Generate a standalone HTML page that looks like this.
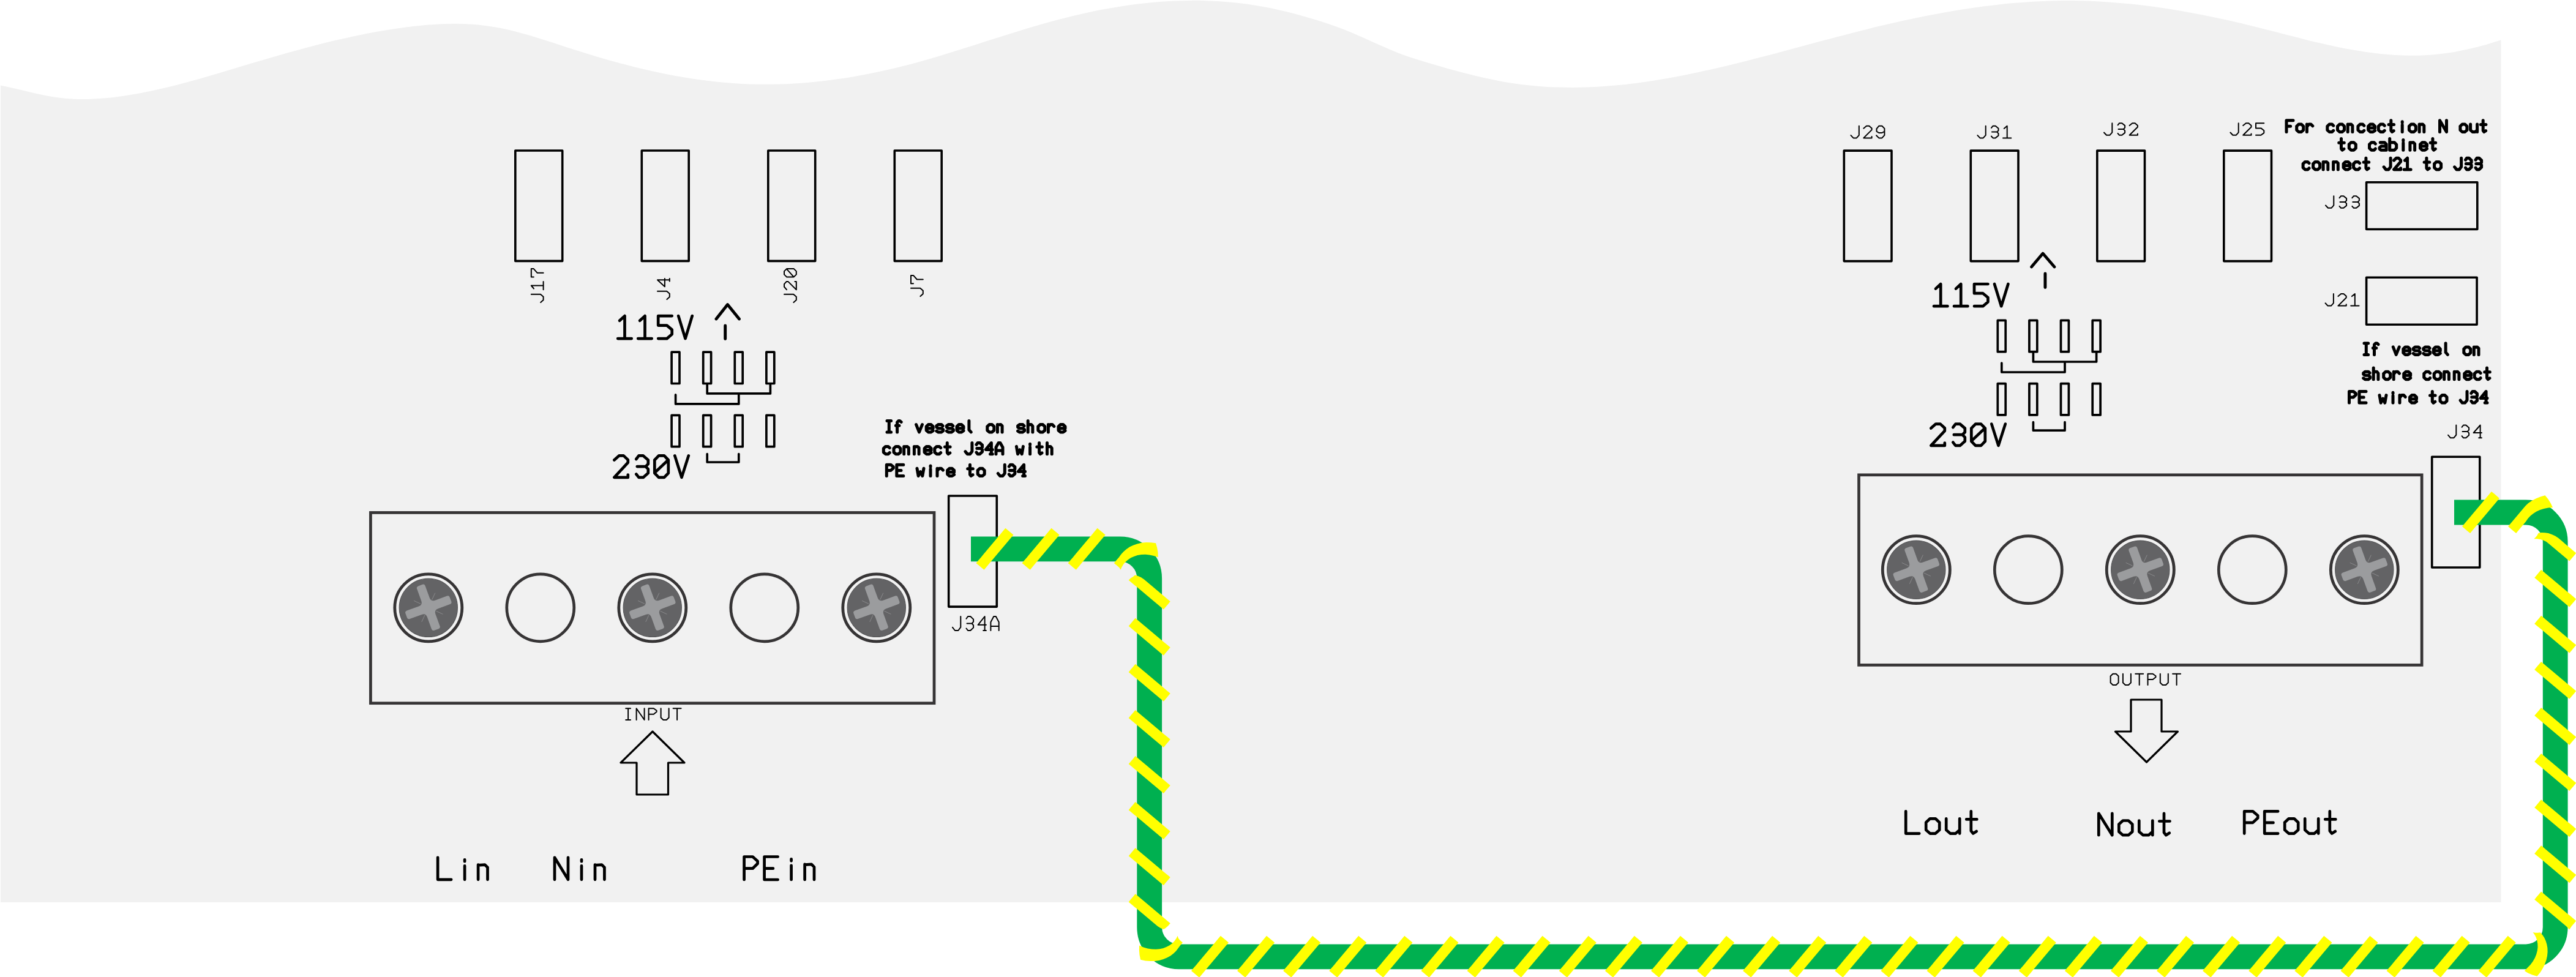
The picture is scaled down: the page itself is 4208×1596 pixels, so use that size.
<!DOCTYPE html>
<html><head><meta charset="utf-8"><title>Wiring</title>
<style>html,body{margin:0;padding:0;background:#fff;width:4208px;height:1596px;overflow:hidden;font-family:"Liberation Sans",sans-serif}svg{display:block}</style>
</head><body>
<svg width="4208" height="1596" viewBox="0 0 4208 1596"><path d="M1,139.6 C5,140.5 17,143 25,144.8 C33,146.6 41,148.7 49,150.5 C57,152.4 65,154.3 73,155.8 C81,157.3 89,158.8 97,159.7 C105,160.7 113,161.4 121,161.7 C129,162.1 137,162.1 145,161.9 C153,161.7 161,161.2 169,160.6 C177,159.9 185,159 193,158 C201,156.9 209,155.7 217,154.3 C225,153 233,151.5 241,149.8 C249,148.2 257,146.4 265,144.6 C273,142.7 281,140.7 289,138.7 C297,136.6 305,134.5 313,132.3 C321,130.1 329,127.8 337,125.5 C345,123.2 353,120.8 361,118.4 C369,116 377,113.6 385,111.2 C393,108.8 401,106.4 409,104 C417,101.7 425,99.3 433,96.9 C441,94.6 449,92.3 457,90 C465,87.7 473,85.5 481,83.3 C489,81.1 497,78.9 505,76.8 C513,74.7 521,72.6 529,70.6 C537,68.6 545,66.7 553,64.8 C561,63 569,61.2 577,59.4 C585,57.7 593,56.1 601,54.5 C609,53 617,51.5 625,50.2 C633,48.8 641,47.6 649,46.4 C657,45.3 665,44.2 673,43.3 C681,42.3 689,41.5 697,40.8 C705,40.2 713,39.6 721,39.3 C729,38.9 737,38.7 745,38.8 C753,38.8 761,39.1 769,39.6 C777,40.1 785,40.8 793,41.9 C801,42.9 809,44.3 817,45.8 C825,47.4 833,49.3 841,51.3 C849,53.3 857,55.5 865,57.8 C873,60.2 881,62.7 889,65.2 C897,67.7 905,70.4 913,73 C921,75.6 929,78.2 937,80.8 C945,83.3 953,85.9 961,88.3 C969,90.8 977,93.2 985,95.5 C993,97.8 1001,100.1 1009,102.2 C1017,104.4 1025,106.5 1033,108.5 C1041,110.5 1049,112.5 1057,114.3 C1065,116.1 1073,117.9 1081,119.5 C1089,121.2 1097,122.8 1105,124.2 C1113,125.7 1121,127 1129,128.2 C1137,129.5 1145,130.6 1153,131.6 C1161,132.6 1169,133.5 1177,134.3 C1185,135.1 1193,135.7 1201,136.2 C1209,136.8 1217,137.1 1225,137.4 C1233,137.7 1241,137.8 1249,137.8 C1257,137.8 1265,137.7 1273,137.5 C1281,137.3 1289,136.9 1297,136.4 C1305,136 1313,135.4 1321,134.7 C1329,134 1337,133.2 1345,132.2 C1353,131.3 1361,130.3 1369,129.1 C1377,128 1385,126.8 1393,125.4 C1401,124 1409,122.6 1417,121 C1425,119.5 1433,117.8 1441,116.1 C1449,114.3 1457,112.4 1465,110.5 C1473,108.5 1481,106.5 1489,104.4 C1497,102.2 1505,100 1513,97.7 C1521,95.4 1529,93.1 1537,90.7 C1545,88.3 1553,85.8 1561,83.3 C1569,80.9 1577,78.3 1585,75.8 C1593,73.3 1601,70.7 1609,68.1 C1617,65.6 1625,63 1633,60.5 C1641,58 1649,55.4 1657,53 C1665,50.5 1673,48 1681,45.6 C1689,43.2 1697,40.9 1705,38.6 C1713,36.4 1721,34.1 1729,32 C1737,29.9 1745,27.9 1753,26 C1761,24 1769,22.2 1777,20.5 C1785,18.7 1793,17.1 1801,15.6 C1809,14.1 1817,12.7 1825,11.4 C1833,10.1 1841,8.9 1849,7.8 C1857,6.7 1865,5.8 1873,4.9 C1881,4.1 1889,3.4 1897,2.8 C1905,2.2 1913,1.8 1921,1.5 C1929,1.1 1937,0.9 1945,0.9 C1953,0.8 1961,0.9 1969,1.2 C1977,1.4 1985,1.8 1993,2.3 C2001,2.8 2009,3.5 2017,4.3 C2025,5.2 2033,6.1 2041,7.3 C2049,8.5 2057,9.8 2065,11.3 C2073,12.7 2081,14.4 2089,16.2 C2097,18 2105,20 2113,22.1 C2121,24.2 2129,26.4 2137,28.7 C2145,31.1 2153,33.5 2161,36.1 C2169,38.7 2177,41.4 2185,44.3 C2193,47.3 2201,50.4 2209,53.7 C2217,57 2225,60.6 2233,64.2 C2241,67.8 2249,71.6 2257,75.1 C2265,78.6 2273,82.1 2281,85.2 C2289,88.4 2297,91.2 2305,94 C2313,96.7 2321,99.1 2329,101.6 C2337,104 2345,106.3 2353,108.6 C2361,110.9 2369,113.1 2377,115.3 C2385,117.4 2393,119.6 2401,121.6 C2409,123.5 2417,125.5 2425,127.2 C2433,129 2441,130.7 2449,132.2 C2457,133.7 2465,135.1 2473,136.3 C2481,137.5 2489,138.5 2497,139.3 C2505,140.2 2513,140.9 2521,141.4 C2529,142 2537,142.4 2545,142.6 C2553,142.9 2561,143 2569,143 C2577,142.9 2585,142.8 2593,142.5 C2601,142.2 2609,141.8 2617,141.2 C2625,140.7 2633,140.1 2641,139.3 C2649,138.5 2657,137.7 2665,136.7 C2673,135.7 2681,134.6 2689,133.5 C2697,132.3 2705,131.1 2713,129.7 C2721,128.4 2729,127 2737,125.5 C2745,124 2753,122.4 2761,120.8 C2769,119.1 2777,117.4 2785,115.6 C2793,113.9 2801,112.1 2809,110.2 C2817,108.3 2825,106.4 2833,104.4 C2841,102.5 2849,100.5 2857,98.4 C2865,96.4 2873,94.3 2881,92.3 C2889,90.2 2897,88.1 2905,85.9 C2913,83.8 2921,81.7 2929,79.5 C2937,77.4 2945,75.2 2953,73.1 C2961,70.9 2969,68.8 2977,66.6 C2985,64.5 2993,62.4 3001,60.3 C3009,58.2 3017,56.1 3025,54 C3033,52 3041,49.9 3049,47.9 C3057,45.9 3065,44 3073,42.1 C3081,40.2 3089,38.3 3097,36.5 C3105,34.7 3113,32.9 3121,31.2 C3129,29.5 3137,27.8 3145,26.2 C3153,24.7 3161,23.1 3169,21.7 C3177,20.2 3185,18.8 3193,17.5 C3201,16.1 3209,14.9 3217,13.7 C3225,12.5 3233,11.4 3241,10.3 C3249,9.3 3257,8.3 3265,7.4 C3273,6.6 3281,5.8 3289,5.1 C3297,4.4 3305,3.8 3313,3.2 C3321,2.7 3329,2.3 3337,1.9 C3345,1.6 3353,1.4 3361,1.2 C3369,1.1 3377,1 3385,1.1 C3393,1.2 3401,1.3 3409,1.6 C3417,1.9 3425,2.3 3433,2.7 C3441,3.2 3449,3.7 3457,4.4 C3465,5 3473,5.8 3481,6.6 C3489,7.4 3497,8.3 3505,9.3 C3513,10.3 3521,11.4 3529,12.5 C3537,13.7 3545,14.9 3553,16.2 C3561,17.5 3569,18.9 3577,20.4 C3585,21.8 3593,23.3 3601,24.9 C3609,26.5 3617,28.2 3625,29.9 C3633,31.6 3641,33.4 3649,35.2 C3657,37.1 3665,39 3673,41 C3681,42.9 3689,44.9 3697,47 C3705,49 3713,51.1 3721,53.1 C3729,55.2 3737,57.3 3745,59.3 C3753,61.4 3761,63.4 3769,65.4 C3777,67.3 3785,69.3 3793,71.1 C3801,73 3809,74.7 3817,76.4 C3825,78.1 3833,79.7 3841,81.1 C3849,82.6 3857,83.9 3865,85.1 C3873,86.2 3881,87.3 3889,88.1 C3897,88.9 3905,89.6 3913,90.1 C3921,90.5 3929,90.8 3937,90.8 C3945,90.9 3953,90.7 3961,90.3 C3969,89.8 3977,89.2 3985,88.3 C3993,87.4 4001,86.2 4009,84.9 C4017,83.5 4025,81.9 4033,80.1 C4041,78.3 4049,76.3 4057,74.1 C4065,71.9 4076.3,68.2 4081,66.8 C4085.7,65.3 4084.7,65.6 4085.4,65.3 L4085.4,1474 L1,1474 Z" fill="#f1f1f1"/>
<rect x="841.8" y="246" width="76.9" height="180.4" fill="none" stroke="#000" stroke-width="3.6" stroke-linejoin="round"/>
<rect x="1048.3" y="246" width="76.9" height="180.4" fill="none" stroke="#000" stroke-width="3.6" stroke-linejoin="round"/>
<rect x="1254.8" y="246" width="76.9" height="180.4" fill="none" stroke="#000" stroke-width="3.6" stroke-linejoin="round"/>
<rect x="1461.3" y="246" width="76.9" height="180.4" fill="none" stroke="#000" stroke-width="3.6" stroke-linejoin="round"/>
<rect x="3012.3" y="246.1" width="77.7" height="180.5" fill="none" stroke="#000" stroke-width="3.6" stroke-linejoin="round"/>
<rect x="3219.3" y="246.1" width="77.7" height="180.5" fill="none" stroke="#000" stroke-width="3.6" stroke-linejoin="round"/>
<rect x="3425.8" y="246.1" width="77.7" height="180.5" fill="none" stroke="#000" stroke-width="3.6" stroke-linejoin="round"/>
<rect x="3632.8" y="246.1" width="77.7" height="180.5" fill="none" stroke="#000" stroke-width="3.6" stroke-linejoin="round"/>
<rect x="3865.6" y="297.7" width="181.2" height="76.8" fill="none" stroke="#000" stroke-width="3.6" stroke-linejoin="round"/>
<rect x="3865.6" y="453.2" width="180.5" height="77" fill="none" stroke="#000" stroke-width="3.6" stroke-linejoin="round"/>
<rect x="1549.7" y="810" width="78.6" height="181.1" fill="none" stroke="#000" stroke-width="3.6" stroke-linejoin="round"/>
<rect x="3972.7" y="746.3" width="78.1" height="180.7" fill="none" stroke="#000" stroke-width="3.6" stroke-linejoin="round"/>
<rect x="1097.1" y="575.2" width="12.9" height="51.3" fill="none" stroke="#000" stroke-width="3.7" stroke-linejoin="round"/>
<rect x="1148.7" y="575.2" width="12.9" height="51.3" fill="none" stroke="#000" stroke-width="3.7" stroke-linejoin="round"/>
<rect x="1200.3" y="575.2" width="12.9" height="51.3" fill="none" stroke="#000" stroke-width="3.7" stroke-linejoin="round"/>
<rect x="1251.9" y="575.2" width="12.9" height="51.3" fill="none" stroke="#000" stroke-width="3.7" stroke-linejoin="round"/>
<rect x="1097.1" y="678.4" width="12.9" height="51.3" fill="none" stroke="#000" stroke-width="3.7" stroke-linejoin="round"/>
<rect x="1148.7" y="678.4" width="12.9" height="51.3" fill="none" stroke="#000" stroke-width="3.7" stroke-linejoin="round"/>
<rect x="1200.3" y="678.4" width="12.9" height="51.3" fill="none" stroke="#000" stroke-width="3.7" stroke-linejoin="round"/>
<rect x="1251.9" y="678.4" width="12.9" height="51.3" fill="none" stroke="#000" stroke-width="3.7" stroke-linejoin="round"/>
<path d="M1155.2,627.4 V642.9 H1258.4 V627.4" fill="none" stroke="#000" stroke-width="3.7" stroke-linecap="round" stroke-linejoin="round"/>
<path d="M1103.6,644.9 V659.9 H1206.8 V644.9" fill="none" stroke="#000" stroke-width="3.7" stroke-linecap="round" stroke-linejoin="round"/>
<path d="M1155.2,741.5 V755 H1206.8 V741.5" fill="none" stroke="#000" stroke-width="3.7" stroke-linecap="round" stroke-linejoin="round"/>
<rect x="3263.3" y="523.4" width="12.9" height="51.3" fill="none" stroke="#000" stroke-width="3.7" stroke-linejoin="round"/>
<rect x="3314.9" y="523.4" width="12.9" height="51.3" fill="none" stroke="#000" stroke-width="3.7" stroke-linejoin="round"/>
<rect x="3366.5" y="523.4" width="12.9" height="51.3" fill="none" stroke="#000" stroke-width="3.7" stroke-linejoin="round"/>
<rect x="3418.2" y="523.4" width="12.9" height="51.3" fill="none" stroke="#000" stroke-width="3.7" stroke-linejoin="round"/>
<rect x="3263.3" y="626.6" width="12.9" height="51.3" fill="none" stroke="#000" stroke-width="3.7" stroke-linejoin="round"/>
<rect x="3314.9" y="626.6" width="12.9" height="51.3" fill="none" stroke="#000" stroke-width="3.7" stroke-linejoin="round"/>
<rect x="3366.5" y="626.6" width="12.9" height="51.3" fill="none" stroke="#000" stroke-width="3.7" stroke-linejoin="round"/>
<rect x="3418.2" y="626.6" width="12.9" height="51.3" fill="none" stroke="#000" stroke-width="3.7" stroke-linejoin="round"/>
<path d="M3321.4,575.5 V591 H3424.6 V575.5" fill="none" stroke="#000" stroke-width="3.7" stroke-linecap="round" stroke-linejoin="round"/>
<path d="M3269.8,593 V608 H3373 V593" fill="none" stroke="#000" stroke-width="3.7" stroke-linecap="round" stroke-linejoin="round"/>
<path d="M3321.4,689.7 V703.2 H3373 V689.7" fill="none" stroke="#000" stroke-width="3.7" stroke-linecap="round" stroke-linejoin="round"/>
<path d="M1170,521 L1188.5,497.5 L1207.5,521 M1184.7,532 L1184.7,553.5" fill="none" stroke="#000" stroke-width="4.9" stroke-linecap="round" stroke-linejoin="round"/>
<path d="M3318.5,436 L3337.1,414 L3356,436 M3340.9,447 L3340.9,469.5" fill="none" stroke="#000" stroke-width="4.9" stroke-linecap="round" stroke-linejoin="round"/>
<rect x="605.4" y="837.4" width="920.6" height="311.3" fill="none" stroke="#363435" stroke-width="4.7"/>
<circle cx="699.8" cy="992.8" r="55" fill="#f2f2f2" stroke="#363435" stroke-width="4.8"/>
<circle cx="699.8" cy="992.8" r="47.6" fill="#636365" stroke="#58585a" stroke-width="1.2"/>
<g transform="translate(699.8,992.3)"><g transform="rotate(-20)"><path d="M-7.2,-35 Q-7.2,-38.5 -3.7,-38.5 L3.7,-38.5 Q7.2,-38.5 7.2,-35 L7.2,-14.2 Q7.2,-7.2 14.2,-7.2 L35,-7.2 Q38.5,-7.2 38.5,-3.7 L38.5,3.7 Q38.5,7.2 35,7.2 L14.2,7.2 Q7.2,7.2 7.2,14.2 L7.2,35 Q7.2,38.5 3.7,38.5 L-3.7,38.5 Q-7.2,38.5 -7.2,35 L-7.2,14.2 Q-7.2,7.2 -14.2,7.2 L-35,7.2 Q-38.5,7.2 -38.5,3.7 L-38.5,-3.7 Q-38.5,-7.2 -35,-7.2 L-14.2,-7.2 Q-7.2,-7.2 -7.2,-14.2 Z" fill="#9b9c9e"/></g><path d="M12.7,5.9 L23.6,11 M-5.9,12.7 L-11,23.6 M-12.7,-5.9 L-23.6,-11 M5.9,-12.7 L11,-23.6" stroke="#a8a9ab" stroke-width="0.8" fill="none" opacity="0.7"/></g>
<circle cx="882.8" cy="992.8" r="55" fill="none" stroke="#363435" stroke-width="4.7"/>
<circle cx="1065.8" cy="992.8" r="55" fill="#f2f2f2" stroke="#363435" stroke-width="4.8"/>
<circle cx="1065.8" cy="992.8" r="47.6" fill="#636365" stroke="#58585a" stroke-width="1.2"/>
<g transform="translate(1065.8,992.3)"><g transform="rotate(-20)"><path d="M-7.2,-35 Q-7.2,-38.5 -3.7,-38.5 L3.7,-38.5 Q7.2,-38.5 7.2,-35 L7.2,-14.2 Q7.2,-7.2 14.2,-7.2 L35,-7.2 Q38.5,-7.2 38.5,-3.7 L38.5,3.7 Q38.5,7.2 35,7.2 L14.2,7.2 Q7.2,7.2 7.2,14.2 L7.2,35 Q7.2,38.5 3.7,38.5 L-3.7,38.5 Q-7.2,38.5 -7.2,35 L-7.2,14.2 Q-7.2,7.2 -14.2,7.2 L-35,7.2 Q-38.5,7.2 -38.5,3.7 L-38.5,-3.7 Q-38.5,-7.2 -35,-7.2 L-14.2,-7.2 Q-7.2,-7.2 -7.2,-14.2 Z" fill="#9b9c9e"/></g><path d="M12.7,5.9 L23.6,11 M-5.9,12.7 L-11,23.6 M-12.7,-5.9 L-23.6,-11 M5.9,-12.7 L11,-23.6" stroke="#a8a9ab" stroke-width="0.8" fill="none" opacity="0.7"/></g>
<circle cx="1248.8" cy="992.8" r="55" fill="none" stroke="#363435" stroke-width="4.7"/>
<circle cx="1431.8" cy="992.8" r="55" fill="#f2f2f2" stroke="#363435" stroke-width="4.8"/>
<circle cx="1431.8" cy="992.8" r="47.6" fill="#636365" stroke="#58585a" stroke-width="1.2"/>
<g transform="translate(1431.8,992.3)"><g transform="rotate(-20)"><path d="M-7.2,-35 Q-7.2,-38.5 -3.7,-38.5 L3.7,-38.5 Q7.2,-38.5 7.2,-35 L7.2,-14.2 Q7.2,-7.2 14.2,-7.2 L35,-7.2 Q38.5,-7.2 38.5,-3.7 L38.5,3.7 Q38.5,7.2 35,7.2 L14.2,7.2 Q7.2,7.2 7.2,14.2 L7.2,35 Q7.2,38.5 3.7,38.5 L-3.7,38.5 Q-7.2,38.5 -7.2,35 L-7.2,14.2 Q-7.2,7.2 -14.2,7.2 L-35,7.2 Q-38.5,7.2 -38.5,3.7 L-38.5,-3.7 Q-38.5,-7.2 -35,-7.2 L-14.2,-7.2 Q-7.2,-7.2 -7.2,-14.2 Z" fill="#9b9c9e"/></g><path d="M12.7,5.9 L23.6,11 M-5.9,12.7 L-11,23.6 M-12.7,-5.9 L-23.6,-11 M5.9,-12.7 L11,-23.6" stroke="#a8a9ab" stroke-width="0.8" fill="none" opacity="0.7"/></g>
<rect x="3036.5" y="775.8" width="919.6" height="310.6" fill="none" stroke="#363435" stroke-width="4.7"/>
<circle cx="3130.3" cy="930.7" r="55" fill="#f2f2f2" stroke="#363435" stroke-width="4.8"/>
<circle cx="3130.3" cy="930.7" r="47.6" fill="#636365" stroke="#58585a" stroke-width="1.2"/>
<g transform="translate(3130.3,930.2)"><g transform="rotate(-20)"><path d="M-7.2,-35 Q-7.2,-38.5 -3.7,-38.5 L3.7,-38.5 Q7.2,-38.5 7.2,-35 L7.2,-14.2 Q7.2,-7.2 14.2,-7.2 L35,-7.2 Q38.5,-7.2 38.5,-3.7 L38.5,3.7 Q38.5,7.2 35,7.2 L14.2,7.2 Q7.2,7.2 7.2,14.2 L7.2,35 Q7.2,38.5 3.7,38.5 L-3.7,38.5 Q-7.2,38.5 -7.2,35 L-7.2,14.2 Q-7.2,7.2 -14.2,7.2 L-35,7.2 Q-38.5,7.2 -38.5,3.7 L-38.5,-3.7 Q-38.5,-7.2 -35,-7.2 L-14.2,-7.2 Q-7.2,-7.2 -7.2,-14.2 Z" fill="#9b9c9e"/></g><path d="M12.7,5.9 L23.6,11 M-5.9,12.7 L-11,23.6 M-12.7,-5.9 L-23.6,-11 M5.9,-12.7 L11,-23.6" stroke="#a8a9ab" stroke-width="0.8" fill="none" opacity="0.7"/></g>
<circle cx="3313.3" cy="930.7" r="55" fill="none" stroke="#363435" stroke-width="4.7"/>
<circle cx="3496.3" cy="930.7" r="55" fill="#f2f2f2" stroke="#363435" stroke-width="4.8"/>
<circle cx="3496.3" cy="930.7" r="47.6" fill="#636365" stroke="#58585a" stroke-width="1.2"/>
<g transform="translate(3496.3,930.2)"><g transform="rotate(-20)"><path d="M-7.2,-35 Q-7.2,-38.5 -3.7,-38.5 L3.7,-38.5 Q7.2,-38.5 7.2,-35 L7.2,-14.2 Q7.2,-7.2 14.2,-7.2 L35,-7.2 Q38.5,-7.2 38.5,-3.7 L38.5,3.7 Q38.5,7.2 35,7.2 L14.2,7.2 Q7.2,7.2 7.2,14.2 L7.2,35 Q7.2,38.5 3.7,38.5 L-3.7,38.5 Q-7.2,38.5 -7.2,35 L-7.2,14.2 Q-7.2,7.2 -14.2,7.2 L-35,7.2 Q-38.5,7.2 -38.5,3.7 L-38.5,-3.7 Q-38.5,-7.2 -35,-7.2 L-14.2,-7.2 Q-7.2,-7.2 -7.2,-14.2 Z" fill="#9b9c9e"/></g><path d="M12.7,5.9 L23.6,11 M-5.9,12.7 L-11,23.6 M-12.7,-5.9 L-23.6,-11 M5.9,-12.7 L11,-23.6" stroke="#a8a9ab" stroke-width="0.8" fill="none" opacity="0.7"/></g>
<circle cx="3679.3" cy="930.7" r="55" fill="none" stroke="#363435" stroke-width="4.7"/>
<circle cx="3862.3" cy="930.7" r="55" fill="#f2f2f2" stroke="#363435" stroke-width="4.8"/>
<circle cx="3862.3" cy="930.7" r="47.6" fill="#636365" stroke="#58585a" stroke-width="1.2"/>
<g transform="translate(3862.3,930.2)"><g transform="rotate(-20)"><path d="M-7.2,-35 Q-7.2,-38.5 -3.7,-38.5 L3.7,-38.5 Q7.2,-38.5 7.2,-35 L7.2,-14.2 Q7.2,-7.2 14.2,-7.2 L35,-7.2 Q38.5,-7.2 38.5,-3.7 L38.5,3.7 Q38.5,7.2 35,7.2 L14.2,7.2 Q7.2,7.2 7.2,14.2 L7.2,35 Q7.2,38.5 3.7,38.5 L-3.7,38.5 Q-7.2,38.5 -7.2,35 L-7.2,14.2 Q-7.2,7.2 -14.2,7.2 L-35,7.2 Q-38.5,7.2 -38.5,3.7 L-38.5,-3.7 Q-38.5,-7.2 -35,-7.2 L-14.2,-7.2 Q-7.2,-7.2 -7.2,-14.2 Z" fill="#9b9c9e"/></g><path d="M12.7,5.9 L23.6,11 M-5.9,12.7 L-11,23.6 M-12.7,-5.9 L-23.6,-11 M5.9,-12.7 L11,-23.6" stroke="#a8a9ab" stroke-width="0.8" fill="none" opacity="0.7"/></g>
<path d="M1066,1195 L1014,1246 L1040,1246 L1040,1298 L1091.5,1298 L1091.5,1246 L1118,1246 Z" fill="none" stroke="#000" stroke-width="3.2" stroke-linejoin="round"/>
<path d="M3481,1143 L3531,1143 L3531,1195 L3557.5,1195 L3506.5,1245 L3455.5,1195 L3481,1195 Z" fill="none" stroke="#000" stroke-width="3.2" stroke-linejoin="round"/>
<path transform="translate(867.8,494) rotate(-90)" d="M13.3,0 L13.3,15.2 L9.3,19.8 L4,19.8 L0,15.4 M22.5,4.2 L27.5,0 L27.5,19.8 M20.8,19.8 L34.1,19.8 M41.6,4 L41.6,0 L54.9,0 L54.9,4 L48.2,9.9 L48.2,19.8" fill="none" stroke="#000" stroke-width="2" stroke-linecap="round" stroke-linejoin="round"/>
<path transform="translate(1074,489) rotate(-90)" d="M13.3,0 L13.3,15.2 L9.3,19.8 L4,19.8 L0,15.4 M31.8,19.8 L31.8,0 L20.8,11.9 L34.1,11.9 M29.4,19.8 L34.1,19.8" fill="none" stroke="#000" stroke-width="2" stroke-linecap="round" stroke-linejoin="round"/>
<path transform="translate(1281,494) rotate(-90)" d="M13.3,0 L13.3,15.2 L9.3,19.8 L4,19.8 L0,15.4 M20.8,4 L25.5,0 L29.8,0 L34.1,3.8 L34.1,6.3 L20.8,19.8 L34.1,19.8 L34.1,17.4 M41.6,4 L45.6,0 L50.9,0 L54.9,4 L54.9,15.8 L50.9,19.8 L45.6,19.8 L41.6,15.8 L41.6,4 M54.2,4.4 L42.3,15" fill="none" stroke="#000" stroke-width="2" stroke-linecap="round" stroke-linejoin="round"/>
<path transform="translate(1488,484) rotate(-90)" d="M13.3,0 L13.3,15.2 L9.3,19.8 L4,19.8 L0,15.4 M20.8,4 L20.8,0 L34.1,0 L34.1,4 L27.5,9.9 L27.5,19.8" fill="none" stroke="#000" stroke-width="2" stroke-linecap="round" stroke-linejoin="round"/>
<path d="M3036.8,205.8 L3036.8,220.9 L3032.8,225.4 L3027.5,225.4 L3023.5,221.1 M3044.3,209.7 L3049,205.8 L3053.3,205.8 L3057.6,209.5 L3057.6,212.1 L3044.3,225.4 L3057.6,225.4 L3057.6,223 M3065.5,210.3 L3069.2,205.8 L3074.3,205.8 L3078.4,209.9 L3078.4,214.6 L3074.3,217 L3069.2,217 L3065.5,214.6 L3065.5,210.3 M3078.4,214.6 L3078.4,220.9 L3074.3,225.4 L3069.2,225.4 L3065.1,221.3" fill="none" stroke="#000" stroke-width="2" stroke-linecap="round" stroke-linejoin="round"/>
<path d="M3243.7,205.8 L3243.7,220.9 L3239.7,225.4 L3234.4,225.4 L3230.4,221.1 M3252.9,208.9 L3255.5,205.8 L3259.7,205.8 L3264.5,209.7 L3264.5,213.2 L3262.1,215.6 L3253.9,215.6 M3262.1,215.6 L3264.5,218 L3264.5,221.5 L3259.7,225.4 L3255.5,225.4 L3252.9,222.5 M3273.7,209.9 L3278.7,205.8 L3278.7,225.4 M3272,225.4 L3285.3,225.4" fill="none" stroke="#000" stroke-width="2" stroke-linecap="round" stroke-linejoin="round"/>
<path d="M3450.3,201.2 L3450.3,216.3 L3446.3,220.8 L3441,220.8 L3437,216.5 M3459.5,204.3 L3462.1,201.2 L3466.3,201.2 L3471.1,205.1 L3471.1,208.6 L3468.7,211 L3460.5,211 M3468.7,211 L3471.1,213.4 L3471.1,216.9 L3466.3,220.8 L3462.1,220.8 L3459.5,217.9 M3478.6,205.1 L3483.3,201.2 L3487.6,201.2 L3491.9,204.9 L3491.9,207.5 L3478.6,220.8 L3491.9,220.8 L3491.9,218.4" fill="none" stroke="#000" stroke-width="2" stroke-linecap="round" stroke-linejoin="round"/>
<path d="M3656.7,201.2 L3656.7,216.3 L3652.7,220.8 L3647.4,220.8 L3643.4,216.5 M3664.2,205.1 L3668.9,201.2 L3673.2,201.2 L3677.5,204.9 L3677.5,207.5 L3664.2,220.8 L3677.5,220.8 L3677.5,218.4 M3698.3,201.2 L3685,201.2 L3685,209.4 L3693.4,209.4 L3698.3,213.2 L3698.3,217.1 L3693.4,220.8 L3685,220.8" fill="none" stroke="#000" stroke-width="2" stroke-linecap="round" stroke-linejoin="round"/>
<path d="M3812.3,320.2 L3812.3,335.3 L3808.3,339.8 L3803,339.8 L3799,335.5 M3821.5,323.3 L3824.1,320.2 L3828.3,320.2 L3833.1,324.1 L3833.1,327.6 L3830.7,330 L3822.5,330 M3830.7,330 L3833.1,332.4 L3833.1,335.9 L3828.3,339.8 L3824.1,339.8 L3821.5,336.9 M3842.3,323.3 L3844.9,320.2 L3849.1,320.2 L3853.9,324.1 L3853.9,327.6 L3851.5,330 L3843.3,330 M3851.5,330 L3853.9,332.4 L3853.9,335.9 L3849.1,339.8 L3844.9,339.8 L3842.3,336.9" fill="none" stroke="#000" stroke-width="2" stroke-linecap="round" stroke-linejoin="round"/>
<path d="M3811.9,480 L3811.9,495.1 L3807.9,499.6 L3802.6,499.6 L3798.6,495.3 M3819.4,483.9 L3824.1,480 L3828.4,480 L3832.7,483.7 L3832.7,486.3 L3819.4,499.6 L3832.7,499.6 L3832.7,497.2 M3841.9,484.1 L3846.8,480 L3846.8,499.6 M3840.2,499.6 L3853.5,499.6" fill="none" stroke="#000" stroke-width="2" stroke-linecap="round" stroke-linejoin="round"/>
<path d="M4012.3,694.5 L4012.3,710.5 L4008.3,715.3 L4003,715.3 L3999,710.7 M4021.5,697.8 L4024.1,694.5 L4028.3,694.5 L4033.1,698.7 L4033.1,702.4 L4030.7,704.9 L4022.5,704.9 M4030.7,704.9 L4033.1,707.4 L4033.1,711.1 L4028.3,715.3 L4024.1,715.3 L4021.5,712.2 M4051.6,715.3 L4051.6,694.5 L4040.6,707 L4053.9,707 M4049.2,715.3 L4053.9,715.3" fill="none" stroke="#000" stroke-width="2" stroke-linecap="round" stroke-linejoin="round"/>
<path d="M1569.3,1007 L1569.3,1024.7 L1565.3,1030 L1560,1030 L1556,1024.9 M1578.5,1010.7 L1581.1,1007 L1585.3,1007 L1590.1,1011.6 L1590.1,1015.7 L1587.7,1018.5 L1579.5,1018.5 M1587.7,1018.5 L1590.1,1021.3 L1590.1,1025.4 L1585.3,1030 L1581.1,1030 L1578.5,1026.5 M1608.6,1030 L1608.6,1007 L1597.6,1020.8 L1610.9,1020.8 M1606.2,1030 L1610.9,1030 M1618.4,1030 L1618.4,1016.2 L1623.3,1007 L1626.8,1007 L1631.7,1016.2 L1631.7,1030 M1618.4,1022.9 L1631.7,1022.9" fill="none" stroke="#000" stroke-width="2" stroke-linecap="round" stroke-linejoin="round"/>
<path d="M1022.2,1157.2 L1030,1157.2 M1026.1,1157.2 L1026.1,1176 M1022.2,1176 L1030,1176 M1039.6,1176 L1039.6,1157.2 L1052.6,1176 L1052.6,1157.2 M1059.6,1176 L1059.6,1157.2 L1067.8,1157.2 L1072.6,1160.8 L1072.6,1162.8 L1067.8,1166.8 L1059.6,1166.8 M1079.6,1157.2 L1079.6,1172.2 L1083.5,1176 L1088.7,1176 L1092.6,1172.2 L1092.6,1157.2 M1099.6,1157.2 L1112.6,1157.2 M1106.1,1157.2 L1106.1,1176" fill="none" stroke="#000" stroke-width="2" stroke-linecap="round" stroke-linejoin="round"/>
<path d="M3447.6,1104.4 L3451.5,1100.7 L3456.7,1100.7 L3460.6,1104.4 L3460.6,1115.3 L3456.7,1119 L3451.5,1119 L3447.6,1115.3 L3447.6,1104.4 M3467.9,1100.7 L3467.9,1115.3 L3471.8,1119 L3477,1119 L3480.9,1115.3 L3480.9,1100.7 M3488.2,1100.7 L3501.2,1100.7 M3494.7,1100.7 L3494.7,1119 M3508.5,1119 L3508.5,1100.7 L3516.7,1100.7 L3521.5,1104.2 L3521.5,1106.2 L3516.7,1110 L3508.5,1110 M3528.8,1100.7 L3528.8,1115.3 L3532.7,1119 L3537.9,1119 L3541.8,1115.3 L3541.8,1100.7 M3549.1,1100.7 L3562.1,1100.7 M3555.6,1100.7 L3555.6,1119" fill="none" stroke="#000" stroke-width="2" stroke-linecap="round" stroke-linejoin="round"/>
<path d="M1012.2,523.8 L1020.5,516.1 L1020.5,553.1 M1009.2,553.1 L1031.7,553.1 M1045.2,523.8 L1053.5,516.1 L1053.5,553.1 M1042.2,553.1 L1064.7,553.1 M1097.7,516.1 L1075.2,516.1 L1075.2,531.6 L1089.4,531.6 L1097.7,538.6 L1097.7,546 L1089.4,553.1 L1075.2,553.1 M1108.2,516.1 L1119.5,553.1 L1130.7,516.1" fill="none" stroke="#000" stroke-width="4.7" stroke-linecap="round" stroke-linejoin="round"/>
<path d="M1003.4,751.5 L1011.2,744.4 L1018.6,744.4 L1025.8,751.1 L1025.8,755.7 L1003.4,779.9 L1025.8,779.9 L1025.8,775.6 M1039.3,750 L1043.5,744.4 L1050.7,744.4 L1058.8,751.5 L1058.8,757.8 L1054.7,762.1 L1040.8,762.1 M1054.7,762.1 L1058.8,766.4 L1058.8,772.8 L1050.7,779.9 L1043.5,779.9 L1039.3,774.5 M1069.3,751.5 L1076.1,744.4 L1085,744.4 L1091.8,751.5 L1091.8,772.8 L1085,779.9 L1076.1,779.9 L1069.3,772.8 L1069.3,751.5 M1090.6,752.2 L1070.5,771.3 M1102.3,744.4 L1113.5,779.9 L1124.8,744.4" fill="none" stroke="#000" stroke-width="4.7" stroke-linecap="round" stroke-linejoin="round"/>
<path d="M3162,471.6 L3170.2,464 L3170.2,500.2 M3159,500.2 L3181.4,500.2 M3195,471.6 L3203.2,464 L3203.2,500.2 M3192,500.2 L3214.4,500.2 M3247.4,464 L3225,464 L3225,479.2 L3239.2,479.2 L3247.4,486 L3247.4,493.3 L3239.2,500.2 L3225,500.2 M3258,464 L3269.2,500.2 L3280.4,464" fill="none" stroke="#000" stroke-width="4.7" stroke-linecap="round" stroke-linejoin="round"/>
<path d="M3154.3,699.6 L3162.2,692.6 L3169.6,692.6 L3176.8,699.3 L3176.8,703.8 L3154.3,727.9 L3176.8,727.9 L3176.8,723.6 M3190.3,698.2 L3194.5,692.6 L3201.7,692.6 L3209.8,699.6 L3209.8,706 L3205.7,710.2 L3191.8,710.2 M3205.7,710.2 L3209.8,714.4 L3209.8,720.8 L3201.7,727.9 L3194.5,727.9 L3190.3,722.6 M3220.3,699.6 L3227.1,692.6 L3236,692.6 L3242.8,699.6 L3242.8,720.8 L3236,727.9 L3227.1,727.9 L3220.3,720.8 L3220.3,699.6 M3241.6,700.3 L3221.5,719.4 M3253.3,692.6 L3264.5,727.9 L3275.8,692.6" fill="none" stroke="#000" stroke-width="4.7" stroke-linecap="round" stroke-linejoin="round"/>
<path d="M715.1,1400.8 L715.1,1436.8 L737.1,1436.8 M759.1,1404.3 L759.1,1407.2 M759.1,1414.4 L759.1,1436.8 M781.1,1412.6 L781.1,1436.8 M781.1,1413.3 L792.1,1412.6 L796.5,1417 L796.5,1436.8" fill="none" stroke="#000" stroke-width="4.7" stroke-linecap="round" stroke-linejoin="round"/>
<path d="M906,1436.8 L906,1400.8 L928,1436.8 L928,1400.8 M950,1404.3 L950,1407.2 M950,1414.4 L950,1436.8 M972,1412.6 L972,1436.8 M972,1413.3 L983,1412.6 L987.4,1417 L987.4,1436.8" fill="none" stroke="#000" stroke-width="4.7" stroke-linecap="round" stroke-linejoin="round"/>
<path d="M1215.6,1437 L1215.6,1399.5 L1229.5,1399.5 L1237.6,1406.7 L1237.6,1410.8 L1229.5,1418.7 L1215.6,1418.7 M1270.6,1399.5 L1248.6,1399.5 L1248.6,1437 L1270.6,1437 M1248.6,1418.7 L1262.9,1418.7 M1292.6,1403.3 L1292.6,1406.3 M1292.6,1413.8 L1292.6,1437 M1314.6,1411.9 L1314.6,1437 M1314.6,1412.7 L1325.6,1411.9 L1330,1416.4 L1330,1437" fill="none" stroke="#000" stroke-width="4.7" stroke-linecap="round" stroke-linejoin="round"/>
<path d="M3113.2,1325.3 L3113.2,1361.6 L3135.2,1361.6 M3146.2,1343.5 L3152.8,1337.3 L3161.6,1337.3 L3168.2,1343.5 L3168.2,1355.8 L3161.6,1361.6 L3152.8,1361.6 L3146.2,1355.8 L3146.2,1343.5 M3179.2,1337.3 L3179.2,1355.8 L3185.8,1361.6 L3194.6,1361.6 L3201.2,1355.8 M3201.2,1337.3 L3201.2,1361.6 M3219.8,1325.3 L3219.8,1357.3 L3223.2,1361.6 L3228.7,1358 M3212.2,1338.4 L3229.3,1338.4" fill="none" stroke="#000" stroke-width="4.7" stroke-linecap="round" stroke-linejoin="round"/>
<path d="M3428.3,1364.2 L3428.3,1328.8 L3450.3,1364.2 L3450.3,1328.8 M3461.3,1346.5 L3467.9,1340.5 L3476.8,1340.5 L3483.3,1346.5 L3483.3,1358.6 L3476.8,1364.2 L3467.9,1364.2 L3461.3,1358.6 L3461.3,1346.5 M3494.3,1340.5 L3494.3,1358.6 L3500.9,1364.2 L3509.8,1364.2 L3516.3,1358.6 M3516.3,1340.5 L3516.3,1364.2 M3535,1328.8 L3535,1360 L3538.3,1364.2 L3543.8,1360.7 M3527.3,1341.5 L3544.5,1341.5" fill="none" stroke="#000" stroke-width="4.7" stroke-linecap="round" stroke-linejoin="round"/>
<path d="M3666.2,1361.6 L3666.2,1325.3 L3680,1325.3 L3688.2,1332.2 L3688.2,1336.2 L3680,1343.9 L3666.2,1343.9 M3721.2,1325.3 L3699.2,1325.3 L3699.2,1361.6 L3721.2,1361.6 M3699.2,1343.9 L3713.5,1343.9 M3732.2,1343.5 L3738.8,1337.3 L3747.6,1337.3 L3754.2,1343.5 L3754.2,1355.8 L3747.6,1361.6 L3738.8,1361.6 L3732.2,1355.8 L3732.2,1343.5 M3765.2,1337.3 L3765.2,1355.8 L3771.8,1361.6 L3780.6,1361.6 L3787.2,1355.8 M3787.2,1337.3 L3787.2,1361.6 M3805.8,1325.3 L3805.8,1357.3 L3809.2,1361.6 L3814.7,1358 M3798.2,1338.4 L3815.3,1338.4" fill="none" stroke="#000" stroke-width="4.7" stroke-linecap="round" stroke-linejoin="round"/>
<path d="M1449,687.6 L1455.6,687.6 M1452.3,687.6 L1452.3,705.9 M1449,705.9 L1455.6,705.9 M1472.2,689.4 L1470,687.6 L1467.8,687.6 L1465.6,689.8 L1465.6,705.9 M1463.4,695.3 L1468.9,695.3 M1496.6,693.6 L1501.5,705.9 L1506.5,693.6 M1513.2,699.7 L1524.2,699.7 L1524.2,696.8 L1520.9,693.6 L1516.5,693.6 L1513.2,696.8 L1513.2,703 L1516.5,705.9 L1520.9,705.9 L1524.2,703.7 M1540.2,695.7 L1538,693.6 L1532.5,693.6 L1529.8,695.8 L1529.8,697.7 L1532.5,699.7 L1538,699.7 L1540.8,701.7 L1540.8,703.7 L1538,705.9 L1532.5,705.9 L1529.8,704.1 M1556.8,695.7 L1554.6,693.6 L1549.1,693.6 L1546.4,695.8 L1546.4,697.7 L1549.1,699.7 L1554.6,699.7 L1557.4,701.7 L1557.4,703.7 L1554.6,705.9 L1549.1,705.9 L1546.4,704.1 M1563,699.7 L1574,699.7 L1574,696.8 L1570.7,693.6 L1566.3,693.6 L1563,696.8 L1563,703 L1566.3,705.9 L1570.7,705.9 L1574,703.7 M1582.9,687.6 L1582.9,702.2 L1586.2,705.9 M1612.8,696.8 L1616.1,693.6 L1620.5,693.6 L1623.8,696.8 L1623.8,703 L1620.5,705.9 L1616.1,705.9 L1612.8,703 L1612.8,696.8 M1629.4,693.6 L1629.4,705.9 M1629.4,694 L1634.9,693.6 L1637.1,695.8 L1637.1,705.9 M1673,695.7 L1670.8,693.6 L1665.3,693.6 L1662.6,695.8 L1662.6,697.7 L1665.3,699.7 L1670.8,699.7 L1673.6,701.7 L1673.6,703.7 L1670.8,705.9 L1665.3,705.9 L1662.6,704.1 M1679.2,687.6 L1679.2,705.9 M1679.2,695.8 L1681.4,693.6 L1684.7,693.6 L1686.9,696.2 L1686.9,705.9 M1695.8,696.8 L1699.1,693.6 L1703.5,693.6 L1706.8,696.8 L1706.8,703 L1703.5,705.9 L1699.1,705.9 L1695.8,703 L1695.8,696.8 M1712.4,693.6 L1712.4,705.9 M1712.4,697.7 L1715.7,693.6 L1719,693.6 L1721.8,696.4 M1729,699.7 L1740,699.7 L1740,696.8 L1736.7,693.6 L1732.3,693.6 L1729,696.8 L1729,703 L1732.3,705.9 L1736.7,705.9 L1740,703.7" fill="none" stroke="#000" stroke-width="5" stroke-linecap="round" stroke-linejoin="round"/>
<path d="M1453.2,731.6 L1451,729.4 L1446.6,729.4 L1443.3,732.5 L1443.3,738.8 L1446.6,741.7 L1451,741.7 L1453.2,739.5 M1460,732.5 L1463.3,729.4 L1467.7,729.4 L1471,732.5 L1471,738.8 L1467.7,741.7 L1463.3,741.7 L1460,738.8 L1460,732.5 M1476.7,729.4 L1476.7,741.7 M1476.7,729.8 L1482.2,729.4 L1484.4,731.6 L1484.4,741.7 M1493.4,729.4 L1493.4,741.7 M1493.4,729.8 L1498.9,729.4 L1501.1,731.6 L1501.1,741.7 M1510.1,735.5 L1521.1,735.5 L1521.1,732.5 L1517.8,729.4 L1513.4,729.4 L1510.1,732.5 L1510.1,738.8 L1513.4,741.7 L1517.8,741.7 L1521.1,739.5 M1536.7,731.6 L1534.5,729.4 L1530.1,729.4 L1526.8,732.5 L1526.8,738.8 L1530.1,741.7 L1534.5,741.7 L1536.7,739.5 M1547.3,723.4 L1547.3,739.5 L1549,741.7 L1551.8,739.9 M1543.5,730 L1552.1,730 M1587.9,723.4 L1587.9,737.5 L1584.6,741.7 L1580.2,741.7 L1576.9,737.7 M1595,726.3 L1597.1,723.4 L1600.6,723.4 L1604.6,727.1 L1604.6,730.4 L1602.6,732.5 L1595.8,732.5 M1602.6,732.5 L1604.6,734.7 L1604.6,738 L1600.6,741.7 L1597.1,741.7 L1595,739 M1619.4,741.7 L1619.4,723.4 L1610.3,734.4 L1621.3,734.4 M1617.5,741.7 L1621.3,741.7 M1627,741.7 L1627,730.7 L1631.1,723.4 L1633.9,723.4 L1638,730.7 L1638,741.7 M1627,736 L1638,736 M1660.4,729.4 L1662.6,741.7 L1665.9,734.7 L1669.2,741.7 L1671.4,729.4 M1682.6,725.2 L1682.6,726.7 M1682.6,730.4 L1682.6,741.7 M1697.6,723.4 L1697.6,739.5 L1699.3,741.7 L1702,739.9 M1693.8,730 L1702.4,730 M1710.5,723.4 L1710.5,741.7 M1710.5,731.6 L1712.7,729.4 L1716,729.4 L1718.2,732 L1718.2,741.7" fill="none" stroke="#000" stroke-width="5" stroke-linecap="round" stroke-linejoin="round"/>
<path d="M1448.3,777.5 L1448.3,759.2 L1455.2,759.2 L1459.3,762.7 L1459.3,764.7 L1455.2,768.5 L1448.3,768.5 M1475.8,759.2 L1464.8,759.2 L1464.8,777.5 L1475.8,777.5 M1464.8,768.5 L1472,768.5 M1498,765.2 L1500.2,777.5 L1503.5,770.5 L1506.8,777.5 L1509,765.2 M1520,761 L1520,762.5 M1520,766.2 L1520,777.5 M1531,765.2 L1531,777.5 M1531,769.3 L1534.3,765.2 L1537.6,765.2 L1540.4,768 M1547.6,771.3 L1558.6,771.3 L1558.6,768.4 L1555.3,765.2 L1550.9,765.2 L1547.6,768.4 L1547.6,774.6 L1550.9,777.5 L1555.3,777.5 L1558.6,775.3 M1584.5,759.2 L1584.5,775.3 L1586.2,777.5 L1589,775.7 M1580.7,765.8 L1589.3,765.8 M1597.2,768.4 L1600.5,765.2 L1605,765.2 L1608.2,768.4 L1608.2,774.6 L1605,777.5 L1600.5,777.5 L1597.2,774.6 L1597.2,768.4 M1641.3,759.2 L1641.3,773.3 L1638,777.5 L1633.6,777.5 L1630.3,773.5 M1648.3,762.1 L1650.4,759.2 L1653.9,759.2 L1657.9,762.9 L1657.9,766.2 L1655.9,768.4 L1649.1,768.4 M1655.9,768.4 L1657.9,770.5 L1657.9,773.8 L1653.9,777.5 L1650.4,777.5 L1648.3,774.8 M1672.6,777.5 L1672.6,759.2 L1663.5,770.2 L1674.5,770.2 M1670.6,777.5 L1674.5,777.5" fill="none" stroke="#000" stroke-width="5" stroke-linecap="round" stroke-linejoin="round"/>
<path d="M3746,196.8 L3735,196.8 L3735,215.5 M3735,206.2 L3741.6,206.2 M3751.7,206.2 L3755,203 L3759.4,203 L3762.7,206.2 L3762.7,212.5 L3759.4,215.5 L3755,215.5 L3751.7,212.5 L3751.7,206.2 M3768.4,203 L3768.4,215.5 M3768.4,207.1 L3771.7,203 L3775,203 L3777.8,205.8 M3811.7,205.2 L3809.5,203 L3805.1,203 L3801.8,206.2 L3801.8,212.5 L3805.1,215.5 L3809.5,215.5 L3811.7,213.3 M3818.5,206.2 L3821.8,203 L3826.2,203 L3829.5,206.2 L3829.5,212.5 L3826.2,215.5 L3821.8,215.5 L3818.5,212.5 L3818.5,206.2 M3835.2,203 L3835.2,215.5 M3835.2,203.3 L3840.7,203 L3842.9,205.2 L3842.9,215.5 M3861.8,205.2 L3859.6,203 L3855.2,203 L3851.9,206.2 L3851.9,212.5 L3855.2,215.5 L3859.6,215.5 L3861.8,213.3 M3868.6,209.1 L3879.6,209.1 L3879.6,206.2 L3876.3,203 L3871.9,203 L3868.6,206.2 L3868.6,212.5 L3871.9,215.5 L3876.3,215.5 L3879.6,213.3 M3895.2,205.2 L3893,203 L3888.6,203 L3885.3,206.2 L3885.3,212.5 L3888.6,215.5 L3893,215.5 L3895.2,213.3 M3905.8,196.8 L3905.8,213.3 L3907.5,215.5 L3910.2,213.6 M3902,203.5 L3910.6,203.5 M3924.2,198.7 L3924.2,200.2 M3924.2,203.9 L3924.2,215.5 M3935.4,206.2 L3938.7,203 L3943.1,203 L3946.4,206.2 L3946.4,212.5 L3943.1,215.5 L3938.7,215.5 L3935.4,212.5 L3935.4,206.2 M3952.1,203 L3952.1,215.5 M3952.1,203.3 L3957.6,203 L3959.8,205.2 L3959.8,215.5 M3985.5,215.5 L3985.5,196.8 L3996.5,215.5 L3996.5,196.8 M4018.9,206.2 L4022.2,203 L4026.6,203 L4029.9,206.2 L4029.9,212.5 L4026.6,215.5 L4022.2,215.5 L4018.9,212.5 L4018.9,206.2 M4035.6,203 L4035.6,212.5 L4038.9,215.5 L4043.3,215.5 L4046.6,212.5 M4046.6,203 L4046.6,215.5 M4056.2,196.8 L4056.2,213.3 L4057.8,215.5 L4060.6,213.6 M4052.3,203.5 L4060.9,203.5" fill="none" stroke="#000" stroke-width="5" stroke-linecap="round" stroke-linejoin="round"/>
<path d="M3824.5,226.5 L3824.5,243 L3826.2,245.2 L3828.9,243.3 M3820.7,233.2 L3829.3,233.2 M3837.3,235.8 L3840.6,232.7 L3845,232.7 L3848.3,235.8 L3848.3,242.2 L3845,245.2 L3840.6,245.2 L3837.3,242.2 L3837.3,235.8 M3880.4,234.9 L3878.2,232.7 L3873.8,232.7 L3870.5,235.8 L3870.5,242.2 L3873.8,245.2 L3878.2,245.2 L3880.4,243 M3888.2,232.7 L3895.3,232.7 L3898.1,235.5 L3898.1,245.2 M3898.1,238.8 L3889.8,238.8 L3887.1,241.1 L3887.1,243.3 L3889.3,245.2 L3898.1,245.2 M3903.7,226.5 L3903.7,245.2 L3911.4,245.2 L3914.7,241.8 L3914.7,236.2 L3911.4,232.7 L3903.7,232.7 M3925.8,228.4 L3925.8,229.9 M3925.8,233.6 L3925.8,245.2 M3936.9,232.7 L3936.9,245.2 M3936.9,233 L3942.4,232.7 L3944.6,234.9 L3944.6,245.2 M3953.5,238.8 L3964.5,238.8 L3964.5,235.8 L3961.2,232.7 L3956.8,232.7 L3953.5,235.8 L3953.5,242.2 L3956.8,245.2 L3961.2,245.2 L3964.5,243 M3973.9,226.5 L3973.9,243 L3975.6,245.2 L3978.3,243.3 M3970.1,233.2 L3978.7,233.2" fill="none" stroke="#000" stroke-width="5" stroke-linecap="round" stroke-linejoin="round"/>
<path d="M3772,266.6 L3769.8,264.4 L3765.4,264.4 L3762.1,267.6 L3762.1,273.9 L3765.4,276.9 L3769.8,276.9 L3772,274.7 M3778.6,267.6 L3781.9,264.4 L3786.3,264.4 L3789.6,267.6 L3789.6,273.9 L3786.3,276.9 L3781.9,276.9 L3778.6,273.9 L3778.6,267.6 M3795.1,264.4 L3795.1,276.9 M3795.1,264.7 L3800.6,264.4 L3802.8,266.6 L3802.8,276.9 M3811.6,264.4 L3811.6,276.9 M3811.6,264.7 L3817.1,264.4 L3819.3,266.6 L3819.3,276.9 M3828.1,270.5 L3839.1,270.5 L3839.1,267.6 L3835.8,264.4 L3831.4,264.4 L3828.1,267.6 L3828.1,273.9 L3831.4,276.9 L3835.8,276.9 L3839.1,274.7 M3854.5,266.6 L3852.3,264.4 L3847.9,264.4 L3844.6,267.6 L3844.6,273.9 L3847.9,276.9 L3852.3,276.9 L3854.5,274.7 M3864.9,258.2 L3864.9,274.7 L3866.6,276.9 L3869.3,275 M3861.1,264.9 L3869.7,264.9 M3905.1,258.2 L3905.1,272.6 L3901.8,276.9 L3897.4,276.9 L3894.1,272.8 M3910.6,261.9 L3914.4,258.2 L3918.1,258.2 L3921.6,261.8 L3921.6,264.2 L3910.6,276.9 L3921.6,276.9 L3921.6,274.7 M3928.5,262.1 L3932.6,258.2 L3932.6,276.9 M3927.1,276.9 L3938.1,276.9 M3963.9,258.2 L3963.9,274.7 L3965.6,276.9 L3968.3,275 M3960.1,264.9 L3968.7,264.9 M3976.6,267.6 L3979.9,264.4 L3984.3,264.4 L3987.6,267.6 L3987.6,273.9 L3984.3,276.9 L3979.9,276.9 L3976.6,273.9 L3976.6,267.6 M4020.6,258.2 L4020.6,272.6 L4017.3,276.9 L4012.9,276.9 L4009.6,272.8 M4027.5,261.2 L4029.6,258.2 L4033.1,258.2 L4037.1,261.9 L4037.1,265.3 L4035.1,267.6 L4028.3,267.6 M4035.1,267.6 L4037.1,269.8 L4037.1,273.2 L4033.1,276.9 L4029.6,276.9 L4027.5,274.1 M4044,261.2 L4046.1,258.2 L4049.6,258.2 L4053.6,261.9 L4053.6,265.3 L4051.6,267.6 L4044.8,267.6 M4051.6,267.6 L4053.6,269.8 L4053.6,273.2 L4049.6,276.9 L4046.1,276.9 L4044,274.1" fill="none" stroke="#000" stroke-width="5" stroke-linecap="round" stroke-linejoin="round"/>
<path d="M3862,560.7 L3868.6,560.7 M3865.3,560.7 L3865.3,579.4 M3862,579.4 L3868.6,579.4 M3885.1,562.6 L3882.9,560.7 L3880.7,560.7 L3878.5,562.9 L3878.5,579.4 M3876.3,568.6 L3881.8,568.6 M3909.3,566.9 L3914.2,579.4 L3919.2,566.9 M3925.8,573 L3936.8,573 L3936.8,570.1 L3933.5,566.9 L3929.1,566.9 L3925.8,570.1 L3925.8,576.4 L3929.1,579.4 L3933.5,579.4 L3936.8,577.2 M3952.8,568.9 L3950.6,566.9 L3945.1,566.9 L3942.3,569.1 L3942.3,571 L3945.1,573 L3950.6,573 L3953.3,575.1 L3953.3,577.2 L3950.6,579.4 L3945.1,579.4 L3942.3,577.5 M3969.2,568.9 L3967.1,566.9 L3961.6,566.9 L3958.8,569.1 L3958.8,571 L3961.6,573 L3967.1,573 L3969.8,575.1 L3969.8,577.2 L3967.1,579.4 L3961.6,579.4 L3958.8,577.5 M3975.3,573 L3986.3,573 L3986.3,570.1 L3983,566.9 L3978.6,566.9 L3975.3,570.1 L3975.3,576.4 L3978.6,579.4 L3983,579.4 L3986.3,577.2 M3995.1,560.7 L3995.1,575.7 L3998.4,579.4 M4024.8,570.1 L4028.1,566.9 L4032.5,566.9 L4035.8,570.1 L4035.8,576.4 L4032.5,579.4 L4028.1,579.4 L4024.8,576.4 L4024.8,570.1 M4041.3,566.9 L4041.3,579.4 M4041.3,567.2 L4046.8,566.9 L4049,569.1 L4049,579.4" fill="none" stroke="#000" stroke-width="5" stroke-linecap="round" stroke-linejoin="round"/>
<path d="M3871.1,609.2 L3868.9,607.2 L3863.4,607.2 L3860.7,609.4 L3860.7,611.3 L3863.4,613.3 L3868.9,613.3 L3871.7,615.4 L3871.7,617.5 L3868.9,619.7 L3863.4,619.7 L3860.7,617.8 M3877.2,601 L3877.2,619.7 M3877.2,609.4 L3879.4,607.2 L3882.7,607.2 L3884.9,609.8 L3884.9,619.7 M3893.7,610.4 L3897,607.2 L3901.4,607.2 L3904.7,610.4 L3904.7,616.7 L3901.4,619.7 L3897,619.7 L3893.7,616.7 L3893.7,610.4 M3910.2,607.2 L3910.2,619.7 M3910.2,611.3 L3913.5,607.2 L3916.8,607.2 L3919.5,610 M3926.7,613.3 L3937.7,613.3 L3937.7,610.4 L3934.4,607.2 L3930,607.2 L3926.7,610.4 L3926.7,616.7 L3930,619.7 L3934.4,619.7 L3937.7,617.5 M3969.6,609.4 L3967.4,607.2 L3963,607.2 L3959.7,610.4 L3959.7,616.7 L3963,619.7 L3967.4,619.7 L3969.6,617.5 M3976.2,610.4 L3979.5,607.2 L3983.9,607.2 L3987.2,610.4 L3987.2,616.7 L3983.9,619.7 L3979.5,619.7 L3976.2,616.7 L3976.2,610.4 M3992.7,607.2 L3992.7,619.7 M3992.7,607.5 L3998.2,607.2 L4000.4,609.4 L4000.4,619.7 M4009.2,607.2 L4009.2,619.7 M4009.2,607.5 L4014.7,607.2 L4016.9,609.4 L4016.9,619.7 M4025.7,613.3 L4036.7,613.3 L4036.7,610.4 L4033.4,607.2 L4029,607.2 L4025.7,610.4 L4025.7,616.7 L4029,619.7 L4033.4,619.7 L4036.7,617.5 M4052.1,609.4 L4049.9,607.2 L4045.5,607.2 L4042.2,610.4 L4042.2,616.7 L4045.5,619.7 L4049.9,619.7 L4052.1,617.5 M4062.5,601 L4062.5,617.5 L4064.2,619.7 L4066.9,617.8 M4058.7,607.7 L4067.3,607.7" fill="none" stroke="#000" stroke-width="5" stroke-linecap="round" stroke-linejoin="round"/>
<path d="M3837.5,658.1 L3837.5,639.4 L3844.4,639.4 L3848.5,643 L3848.5,645 L3844.4,648.9 L3837.5,648.9 M3865,639.4 L3854,639.4 L3854,658.1 L3865,658.1 M3854,648.9 L3861.2,648.9 M3887,645.6 L3889.2,658.1 L3892.5,651 L3895.8,658.1 L3898,645.6 M3909,641.3 L3909,642.8 M3909,646.5 L3909,658.1 M3920,645.6 L3920,658.1 M3920,649.7 L3923.3,645.6 L3926.6,645.6 L3929.3,648.4 M3936.5,651.7 L3947.5,651.7 L3947.5,648.8 L3944.2,645.6 L3939.8,645.6 L3936.5,648.8 L3936.5,655.1 L3939.8,658.1 L3944.2,658.1 L3947.5,655.9 M3973.3,639.4 L3973.3,655.9 L3975,658.1 L3977.8,656.2 M3969.5,646.1 L3978.1,646.1 M3986,648.8 L3989.3,645.6 L3993.7,645.6 L3997,648.8 L3997,655.1 L3993.7,658.1 L3989.3,658.1 L3986,655.1 L3986,648.8 M4030,639.4 L4030,653.8 L4026.7,658.1 L4022.3,658.1 L4019,654 M4036.9,642.4 L4039,639.4 L4042.5,639.4 L4046.5,643.1 L4046.5,646.5 L4044.5,648.8 L4037.7,648.8 M4044.5,648.8 L4046.5,651 L4046.5,654.4 L4042.5,658.1 L4039,658.1 L4036.9,655.3 M4061.1,658.1 L4061.1,639.4 L4052,650.6 L4063,650.6 M4059.2,658.1 L4063,658.1" fill="none" stroke="#000" stroke-width="5" stroke-linecap="round" stroke-linejoin="round"/>
<path d="M1586,896.8 L1829.7,896.8 A48,48 0 0 1 1877.7,944.8 L1877.7,1514.8 A48,48 0 0 0 1925.7,1562.8 L4126.2,1562.8 A48,48 0 0 0 4174.2,1514.8 L4174.2,885 A48,48 0 0 0 4126.2,837 L4009,837" fill="none" stroke="#00b050" stroke-width="40.8" stroke-linejoin="round"/>
<path d="M1594.5,919.9 L1598.5,915.1 L1602.5,910.4 L1606.5,905.6 L1610.5,900.8 L1614.5,896.1 L1618.5,891.3 L1622.5,886.6 L1626.5,881.8 L1630.5,877.1 L1634.5,872.3 L1638.4,867.6 L1642.4,862.8 L1646.8,866.4 L1651.1,870.1 L1655.5,873.7 L1651.5,878.5 L1647.5,883.2 L1643.5,888 L1639.5,892.8 L1635.5,897.5 L1631.5,902.3 L1627.5,907 L1623.5,911.8 L1619.5,916.5 L1615.5,921.3 L1611.6,926 L1607.6,930.8 L1603.2,927.2 L1598.9,923.5Z M1669.6,919.9 L1673.6,915.1 L1677.6,910.4 L1681.6,905.6 L1685.6,900.8 L1689.6,896.1 L1693.6,891.3 L1697.6,886.6 L1701.6,881.8 L1705.6,877.1 L1709.6,872.3 L1713.5,867.6 L1717.5,862.8 L1721.9,866.4 L1726.2,870.1 L1730.6,873.7 L1726.6,878.5 L1722.6,883.2 L1718.6,888 L1714.6,892.8 L1710.6,897.5 L1706.6,902.3 L1702.6,907 L1698.6,911.8 L1694.6,916.5 L1690.6,921.3 L1686.7,926 L1682.7,930.8 L1678.3,927.2 L1674,923.5Z M1744.7,919.9 L1748.7,915.1 L1752.7,910.4 L1756.7,905.6 L1760.7,900.8 L1764.7,896.1 L1768.7,891.3 L1772.7,886.6 L1776.7,881.8 L1780.7,877.1 L1784.7,872.3 L1788.6,867.6 L1792.6,862.8 L1797,866.4 L1801.3,870.1 L1805.7,873.7 L1801.7,878.5 L1797.7,883.2 L1793.7,888 L1789.7,892.8 L1785.7,897.5 L1781.7,902.3 L1777.7,907 L1773.7,911.8 L1769.7,916.5 L1765.7,921.3 L1761.8,926 L1757.8,930.8 L1753.4,927.2 L1749.1,923.5Z M1819.8,919.9 L1823.8,915.1 L1827.8,910.4 L1831.4,905.6 L1835.3,901.2 L1839.9,897.2 L1845.2,893.6 L1851.1,890.7 L1857.6,888.4 L1864.7,886.8 L1872.2,886.1 L1880,886.2 L1888.1,887.2 L1890.2,895 L1891.5,902.8 L1891.8,910.3 L1884.8,907.9 L1877.8,906.4 L1871,905.8 L1864.5,906.1 L1858.2,907.1 L1852.5,908.9 L1847.2,911.3 L1842.5,914.4 L1838.5,917.9 L1835.1,921.9 L1832.5,926.3 L1830.6,930.8 L1828.5,927.2 L1824.2,923.5Z M1854.1,939.6 L1859.1,941 L1864.1,943.2 L1868.9,946.6 L1873.7,950.6 L1878.4,954.6 L1883.2,958.6 L1887.9,962.6 L1892.7,966.6 L1897.4,970.6 L1902.2,974.6 L1906.9,978.5 L1911.7,982.5 L1908.1,986.9 L1904.4,991.2 L1900.8,995.6 L1896,991.6 L1891.3,987.6 L1886.5,983.6 L1881.7,979.6 L1877,975.6 L1872.2,971.6 L1867.5,967.6 L1862.7,963.6 L1858,959.6 L1853.2,955.7 L1848.5,951.7 L1843.7,947.7 L1847.3,944.3 L1850.8,942.2Z M1854.6,1009.7 L1859.4,1013.7 L1864.1,1017.7 L1868.9,1021.7 L1873.7,1025.7 L1878.4,1029.7 L1883.2,1033.7 L1887.9,1037.7 L1892.7,1041.7 L1897.4,1045.7 L1902.2,1049.7 L1906.9,1053.6 L1911.7,1057.6 L1908.1,1062 L1904.4,1066.3 L1900.8,1070.7 L1896,1066.7 L1891.3,1062.7 L1886.5,1058.7 L1881.7,1054.7 L1877,1050.7 L1872.2,1046.7 L1867.5,1042.7 L1862.7,1038.7 L1858,1034.7 L1853.2,1030.8 L1848.5,1026.8 L1843.7,1022.8 L1847.3,1018.4 L1851,1014.1Z M1854.6,1084.8 L1859.4,1088.8 L1864.1,1092.8 L1868.9,1096.8 L1873.7,1100.8 L1878.4,1104.8 L1883.2,1108.8 L1887.9,1112.8 L1892.7,1116.8 L1897.4,1120.8 L1902.2,1124.8 L1906.9,1128.7 L1911.7,1132.7 L1908.1,1137.1 L1904.4,1141.4 L1900.8,1145.8 L1896,1141.8 L1891.3,1137.8 L1886.5,1133.8 L1881.7,1129.8 L1877,1125.8 L1872.2,1121.8 L1867.5,1117.8 L1862.7,1113.8 L1858,1109.8 L1853.2,1105.9 L1848.5,1101.9 L1843.7,1097.9 L1847.3,1093.5 L1851,1089.2Z M1854.6,1159.9 L1859.4,1163.9 L1864.1,1167.9 L1868.9,1171.9 L1873.7,1175.9 L1878.4,1179.9 L1883.2,1183.9 L1887.9,1187.9 L1892.7,1191.9 L1897.4,1195.9 L1902.2,1199.9 L1906.9,1203.8 L1911.7,1207.8 L1908.1,1212.2 L1904.4,1216.5 L1900.8,1220.9 L1896,1216.9 L1891.3,1212.9 L1886.5,1208.9 L1881.7,1204.9 L1877,1200.9 L1872.2,1196.9 L1867.5,1192.9 L1862.7,1188.9 L1858,1184.9 L1853.2,1181 L1848.5,1177 L1843.7,1173 L1847.3,1168.6 L1851,1164.3Z M1854.6,1235 L1859.4,1239 L1864.1,1243 L1868.9,1247 L1873.7,1251 L1878.4,1255 L1883.2,1259 L1887.9,1263 L1892.7,1267 L1897.4,1271 L1902.2,1275 L1906.9,1278.9 L1911.7,1282.9 L1908.1,1287.3 L1904.4,1291.6 L1900.8,1296 L1896,1292 L1891.3,1288 L1886.5,1284 L1881.7,1280 L1877,1276 L1872.2,1272 L1867.5,1268 L1862.7,1264 L1858,1260 L1853.2,1256.1 L1848.5,1252.1 L1843.7,1248.1 L1847.3,1243.7 L1851,1239.4Z M1854.6,1310.1 L1859.4,1314.1 L1864.1,1318.1 L1868.9,1322.1 L1873.7,1326.1 L1878.4,1330.1 L1883.2,1334.1 L1887.9,1338.1 L1892.7,1342.1 L1897.4,1346.1 L1902.2,1350.1 L1906.9,1354 L1911.7,1358 L1908.1,1362.4 L1904.4,1366.7 L1900.8,1371.1 L1896,1367.1 L1891.3,1363.1 L1886.5,1359.1 L1881.7,1355.1 L1877,1351.1 L1872.2,1347.1 L1867.5,1343.1 L1862.7,1339.1 L1858,1335.1 L1853.2,1331.2 L1848.5,1327.2 L1843.7,1323.2 L1847.3,1318.8 L1851,1314.5Z M1854.6,1385.2 L1859.4,1389.2 L1864.1,1393.2 L1868.9,1397.2 L1873.7,1401.2 L1878.4,1405.2 L1883.2,1409.2 L1887.9,1413.2 L1892.7,1417.2 L1897.4,1421.2 L1902.2,1425.2 L1906.9,1429.1 L1911.7,1433.1 L1908.1,1437.5 L1904.4,1441.8 L1900.8,1446.2 L1896,1442.2 L1891.3,1438.2 L1886.5,1434.2 L1881.7,1430.2 L1877,1426.2 L1872.2,1422.2 L1867.5,1418.2 L1862.7,1414.2 L1858,1410.2 L1853.2,1406.3 L1848.5,1402.3 L1843.7,1398.3 L1847.3,1393.9 L1851,1389.6Z M1854.6,1460.3 L1859.4,1464.3 L1864.1,1468.3 L1868.9,1472.3 L1873.7,1476.3 L1878.4,1480.3 L1883.2,1484.3 L1887.9,1488.3 L1892.7,1492.3 L1897.4,1496.3 L1902.2,1500.3 L1906.9,1504.2 L1911.7,1508.2 L1908.1,1512.6 L1904.4,1515.7 L1901,1518.1 L1896.1,1516.3 L1891.3,1513.3 L1886.5,1509.3 L1881.7,1505.3 L1877,1501.3 L1872.2,1497.3 L1867.5,1493.3 L1862.7,1489.3 L1858,1485.3 L1853.2,1481.4 L1848.5,1477.4 L1843.7,1473.4 L1847.3,1469 L1851,1464.7Z M1861.1,1544.4 L1867.9,1547.4 L1874.8,1549.4 L1881.5,1550.5 L1888.1,1550.8 L1894.3,1550.2 L1900.2,1548.9 L1905.7,1546.8 L1910.6,1544.2 L1914.9,1540.9 L1918.5,1537.2 L1921.5,1533.1 L1923.7,1528.7 L1924.8,1532.4 L1927.5,1536.1 L1931.9,1539.7 L1927.9,1544.5 L1924.4,1549.2 L1921,1553.7 L1916.8,1557.8 L1911.9,1561.5 L1906.3,1564.6 L1900.2,1567.1 L1893.5,1568.9 L1886.4,1569.9 L1878.8,1570.1 L1871,1569.4 L1863.1,1567.7 L1861.5,1559.8 L1860.9,1552Z M1946,1585.9 L1950,1581.1 L1954,1576.4 L1958,1571.6 L1962,1566.8 L1966,1562.1 L1970,1557.3 L1974,1552.6 L1978,1547.8 L1982,1543.1 L1986,1538.3 L1989.9,1533.6 L1993.9,1528.8 L1998.3,1532.4 L2002.6,1536.1 L2007,1539.7 L2003,1544.5 L1999,1549.2 L1995,1554 L1991,1558.8 L1987,1563.5 L1983,1568.3 L1979,1573 L1975,1577.8 L1971,1582.5 L1967.1,1587.3 L1963.1,1592 L1959.1,1596.8 L1954.7,1593.2 L1950.4,1589.5Z M2021.1,1585.9 L2025.1,1581.1 L2029.1,1576.4 L2033.1,1571.6 L2037.1,1566.8 L2041.1,1562.1 L2045.1,1557.3 L2049.1,1552.6 L2053.1,1547.8 L2057.1,1543.1 L2061.1,1538.3 L2065,1533.6 L2069,1528.8 L2073.4,1532.4 L2077.7,1536.1 L2082.1,1539.7 L2078.1,1544.5 L2074.1,1549.2 L2070.1,1554 L2066.1,1558.8 L2062.1,1563.5 L2058.1,1568.3 L2054.1,1573 L2050.1,1577.8 L2046.1,1582.5 L2042.2,1587.3 L2038.2,1592 L2034.2,1596.8 L2029.8,1593.2 L2025.5,1589.5Z M2096.2,1585.9 L2100.2,1581.1 L2104.2,1576.4 L2108.2,1571.6 L2112.2,1566.8 L2116.2,1562.1 L2120.2,1557.3 L2124.2,1552.6 L2128.2,1547.8 L2132.2,1543.1 L2136.2,1538.3 L2140.1,1533.6 L2144.1,1528.8 L2148.5,1532.4 L2152.8,1536.1 L2157.2,1539.7 L2153.2,1544.5 L2149.2,1549.2 L2145.2,1554 L2141.2,1558.8 L2137.2,1563.5 L2133.2,1568.3 L2129.2,1573 L2125.2,1577.8 L2121.2,1582.5 L2117.3,1587.3 L2113.3,1592 L2109.3,1596.8 L2104.9,1593.2 L2100.6,1589.5Z M2171.3,1585.9 L2175.3,1581.1 L2179.3,1576.4 L2183.3,1571.6 L2187.3,1566.8 L2191.3,1562.1 L2195.3,1557.3 L2199.3,1552.6 L2203.3,1547.8 L2207.3,1543.1 L2211.3,1538.3 L2215.2,1533.6 L2219.2,1528.8 L2223.6,1532.4 L2227.9,1536.1 L2232.3,1539.7 L2228.3,1544.5 L2224.3,1549.2 L2220.3,1554 L2216.3,1558.8 L2212.3,1563.5 L2208.3,1568.3 L2204.3,1573 L2200.3,1577.8 L2196.3,1582.5 L2192.4,1587.3 L2188.4,1592 L2184.4,1596.8 L2180,1593.2 L2175.7,1589.5Z M2246.4,1585.9 L2250.4,1581.1 L2254.4,1576.4 L2258.4,1571.6 L2262.4,1566.8 L2266.4,1562.1 L2270.4,1557.3 L2274.4,1552.6 L2278.4,1547.8 L2282.4,1543.1 L2286.4,1538.3 L2290.3,1533.6 L2294.3,1528.8 L2298.7,1532.4 L2303,1536.1 L2307.4,1539.7 L2303.4,1544.5 L2299.4,1549.2 L2295.4,1554 L2291.4,1558.8 L2287.4,1563.5 L2283.4,1568.3 L2279.4,1573 L2275.4,1577.8 L2271.4,1582.5 L2267.5,1587.3 L2263.5,1592 L2259.5,1596.8 L2255.1,1593.2 L2250.8,1589.5Z M2321.5,1585.9 L2325.5,1581.1 L2329.5,1576.4 L2333.5,1571.6 L2337.5,1566.8 L2341.5,1562.1 L2345.5,1557.3 L2349.5,1552.6 L2353.5,1547.8 L2357.5,1543.1 L2361.5,1538.3 L2365.4,1533.6 L2369.4,1528.8 L2373.8,1532.4 L2378.1,1536.1 L2382.5,1539.7 L2378.5,1544.5 L2374.5,1549.2 L2370.5,1554 L2366.5,1558.8 L2362.5,1563.5 L2358.5,1568.3 L2354.5,1573 L2350.5,1577.8 L2346.5,1582.5 L2342.6,1587.3 L2338.6,1592 L2334.6,1596.8 L2330.2,1593.2 L2325.9,1589.5Z M2396.6,1585.9 L2400.6,1581.1 L2404.6,1576.4 L2408.6,1571.6 L2412.6,1566.8 L2416.6,1562.1 L2420.6,1557.3 L2424.6,1552.6 L2428.6,1547.8 L2432.6,1543.1 L2436.6,1538.3 L2440.5,1533.6 L2444.5,1528.8 L2448.9,1532.4 L2453.2,1536.1 L2457.6,1539.7 L2453.6,1544.5 L2449.6,1549.2 L2445.6,1554 L2441.6,1558.8 L2437.6,1563.5 L2433.6,1568.3 L2429.6,1573 L2425.6,1577.8 L2421.6,1582.5 L2417.7,1587.3 L2413.7,1592 L2409.7,1596.8 L2405.3,1593.2 L2401,1589.5Z M2471.7,1585.9 L2475.7,1581.1 L2479.7,1576.4 L2483.7,1571.6 L2487.7,1566.8 L2491.7,1562.1 L2495.7,1557.3 L2499.7,1552.6 L2503.7,1547.8 L2507.7,1543.1 L2511.7,1538.3 L2515.6,1533.6 L2519.6,1528.8 L2524,1532.4 L2528.3,1536.1 L2532.7,1539.7 L2528.7,1544.5 L2524.7,1549.2 L2520.7,1554 L2516.7,1558.8 L2512.7,1563.5 L2508.7,1568.3 L2504.7,1573 L2500.7,1577.8 L2496.7,1582.5 L2492.8,1587.3 L2488.8,1592 L2484.8,1596.8 L2480.4,1593.2 L2476.1,1589.5Z M2546.8,1585.9 L2550.8,1581.1 L2554.8,1576.4 L2558.8,1571.6 L2562.8,1566.8 L2566.8,1562.1 L2570.8,1557.3 L2574.8,1552.6 L2578.8,1547.8 L2582.8,1543.1 L2586.8,1538.3 L2590.7,1533.6 L2594.7,1528.8 L2599.1,1532.4 L2603.4,1536.1 L2607.8,1539.7 L2603.8,1544.5 L2599.8,1549.2 L2595.8,1554 L2591.8,1558.8 L2587.8,1563.5 L2583.8,1568.3 L2579.8,1573 L2575.8,1577.8 L2571.8,1582.5 L2567.9,1587.3 L2563.9,1592 L2559.9,1596.8 L2555.5,1593.2 L2551.2,1589.5Z M2621.9,1585.9 L2625.9,1581.1 L2629.9,1576.4 L2633.9,1571.6 L2637.9,1566.8 L2641.9,1562.1 L2645.9,1557.3 L2649.9,1552.6 L2653.9,1547.8 L2657.9,1543.1 L2661.9,1538.3 L2665.8,1533.6 L2669.8,1528.8 L2674.2,1532.4 L2678.5,1536.1 L2682.9,1539.7 L2678.9,1544.5 L2674.9,1549.2 L2670.9,1554 L2666.9,1558.8 L2662.9,1563.5 L2658.9,1568.3 L2654.9,1573 L2650.9,1577.8 L2646.9,1582.5 L2643,1587.3 L2639,1592 L2635,1596.8 L2630.6,1593.2 L2626.3,1589.5Z M2697,1585.9 L2701,1581.1 L2705,1576.4 L2709,1571.6 L2713,1566.8 L2717,1562.1 L2721,1557.3 L2725,1552.6 L2729,1547.8 L2733,1543.1 L2737,1538.3 L2740.9,1533.6 L2744.9,1528.8 L2749.3,1532.4 L2753.6,1536.1 L2758,1539.7 L2754,1544.5 L2750,1549.2 L2746,1554 L2742,1558.8 L2738,1563.5 L2734,1568.3 L2730,1573 L2726,1577.8 L2722,1582.5 L2718.1,1587.3 L2714.1,1592 L2710.1,1596.8 L2705.7,1593.2 L2701.4,1589.5Z M2772.1,1585.9 L2776.1,1581.1 L2780.1,1576.4 L2784.1,1571.6 L2788.1,1566.8 L2792.1,1562.1 L2796.1,1557.3 L2800.1,1552.6 L2804.1,1547.8 L2808.1,1543.1 L2812.1,1538.3 L2816,1533.6 L2820,1528.8 L2824.4,1532.4 L2828.7,1536.1 L2833.1,1539.7 L2829.1,1544.5 L2825.1,1549.2 L2821.1,1554 L2817.1,1558.8 L2813.1,1563.5 L2809.1,1568.3 L2805.1,1573 L2801.1,1577.8 L2797.1,1582.5 L2793.2,1587.3 L2789.2,1592 L2785.2,1596.8 L2780.8,1593.2 L2776.5,1589.5Z M2847.2,1585.9 L2851.2,1581.1 L2855.2,1576.4 L2859.2,1571.6 L2863.2,1566.8 L2867.2,1562.1 L2871.2,1557.3 L2875.2,1552.6 L2879.2,1547.8 L2883.2,1543.1 L2887.2,1538.3 L2891.1,1533.6 L2895.1,1528.8 L2899.5,1532.4 L2903.8,1536.1 L2908.2,1539.7 L2904.2,1544.5 L2900.2,1549.2 L2896.2,1554 L2892.2,1558.8 L2888.2,1563.5 L2884.2,1568.3 L2880.2,1573 L2876.2,1577.8 L2872.2,1582.5 L2868.3,1587.3 L2864.3,1592 L2860.3,1596.8 L2855.9,1593.2 L2851.6,1589.5Z M2922.3,1585.9 L2926.3,1581.1 L2930.3,1576.4 L2934.3,1571.6 L2938.3,1566.8 L2942.3,1562.1 L2946.3,1557.3 L2950.3,1552.6 L2954.3,1547.8 L2958.3,1543.1 L2962.3,1538.3 L2966.2,1533.6 L2970.2,1528.8 L2974.6,1532.4 L2978.9,1536.1 L2983.3,1539.7 L2979.3,1544.5 L2975.3,1549.2 L2971.3,1554 L2967.3,1558.8 L2963.3,1563.5 L2959.3,1568.3 L2955.3,1573 L2951.3,1577.8 L2947.3,1582.5 L2943.4,1587.3 L2939.4,1592 L2935.4,1596.8 L2931,1593.2 L2926.7,1589.5Z M2997.4,1585.9 L3001.4,1581.1 L3005.4,1576.4 L3009.4,1571.6 L3013.4,1566.8 L3017.4,1562.1 L3021.4,1557.3 L3025.4,1552.6 L3029.4,1547.8 L3033.4,1543.1 L3037.4,1538.3 L3041.3,1533.6 L3045.3,1528.8 L3049.7,1532.4 L3054,1536.1 L3058.4,1539.7 L3054.4,1544.5 L3050.4,1549.2 L3046.4,1554 L3042.4,1558.8 L3038.4,1563.5 L3034.4,1568.3 L3030.4,1573 L3026.4,1577.8 L3022.4,1582.5 L3018.5,1587.3 L3014.5,1592 L3010.5,1596.8 L3006.1,1593.2 L3001.8,1589.5Z M3072.5,1585.9 L3076.5,1581.1 L3080.5,1576.4 L3084.5,1571.6 L3088.5,1566.8 L3092.5,1562.1 L3096.5,1557.3 L3100.5,1552.6 L3104.5,1547.8 L3108.5,1543.1 L3112.5,1538.3 L3116.4,1533.6 L3120.4,1528.8 L3124.8,1532.4 L3129.1,1536.1 L3133.5,1539.7 L3129.5,1544.5 L3125.5,1549.2 L3121.5,1554 L3117.5,1558.8 L3113.5,1563.5 L3109.5,1568.3 L3105.5,1573 L3101.5,1577.8 L3097.5,1582.5 L3093.6,1587.3 L3089.6,1592 L3085.6,1596.8 L3081.2,1593.2 L3076.9,1589.5Z M3147.6,1585.9 L3151.6,1581.1 L3155.6,1576.4 L3159.6,1571.6 L3163.6,1566.8 L3167.6,1562.1 L3171.6,1557.3 L3175.6,1552.6 L3179.6,1547.8 L3183.6,1543.1 L3187.6,1538.3 L3191.5,1533.6 L3195.5,1528.8 L3199.9,1532.4 L3204.2,1536.1 L3208.6,1539.7 L3204.6,1544.5 L3200.6,1549.2 L3196.6,1554 L3192.6,1558.8 L3188.6,1563.5 L3184.6,1568.3 L3180.6,1573 L3176.6,1577.8 L3172.6,1582.5 L3168.7,1587.3 L3164.7,1592 L3160.7,1596.8 L3156.3,1593.2 L3152,1589.5Z M3222.7,1585.9 L3226.7,1581.1 L3230.7,1576.4 L3234.7,1571.6 L3238.7,1566.8 L3242.7,1562.1 L3246.7,1557.3 L3250.7,1552.6 L3254.7,1547.8 L3258.7,1543.1 L3262.7,1538.3 L3266.6,1533.6 L3270.6,1528.8 L3275,1532.4 L3279.3,1536.1 L3283.7,1539.7 L3279.7,1544.5 L3275.7,1549.2 L3271.7,1554 L3267.7,1558.8 L3263.7,1563.5 L3259.7,1568.3 L3255.7,1573 L3251.7,1577.8 L3247.7,1582.5 L3243.8,1587.3 L3239.8,1592 L3235.8,1596.8 L3231.4,1593.2 L3227.1,1589.5Z M3297.8,1585.9 L3301.8,1581.1 L3305.8,1576.4 L3309.8,1571.6 L3313.8,1566.8 L3317.8,1562.1 L3321.8,1557.3 L3325.8,1552.6 L3329.8,1547.8 L3333.8,1543.1 L3337.8,1538.3 L3341.7,1533.6 L3345.7,1528.8 L3350.1,1532.4 L3354.4,1536.1 L3358.8,1539.7 L3354.8,1544.5 L3350.8,1549.2 L3346.8,1554 L3342.8,1558.8 L3338.8,1563.5 L3334.8,1568.3 L3330.8,1573 L3326.8,1577.8 L3322.8,1582.5 L3318.9,1587.3 L3314.9,1592 L3310.9,1596.8 L3306.5,1593.2 L3302.2,1589.5Z M3372.9,1585.9 L3376.9,1581.1 L3380.9,1576.4 L3384.9,1571.6 L3388.9,1566.8 L3392.9,1562.1 L3396.9,1557.3 L3400.9,1552.6 L3404.9,1547.8 L3408.9,1543.1 L3412.9,1538.3 L3416.8,1533.6 L3420.8,1528.8 L3425.2,1532.4 L3429.5,1536.1 L3433.9,1539.7 L3429.9,1544.5 L3425.9,1549.2 L3421.9,1554 L3417.9,1558.8 L3413.9,1563.5 L3409.9,1568.3 L3405.9,1573 L3401.9,1577.8 L3397.9,1582.5 L3394,1587.3 L3390,1592 L3386,1596.8 L3381.6,1593.2 L3377.3,1589.5Z M3448,1585.9 L3452,1581.1 L3456,1576.4 L3460,1571.6 L3464,1566.8 L3468,1562.1 L3472,1557.3 L3476,1552.6 L3480,1547.8 L3484,1543.1 L3488,1538.3 L3491.9,1533.6 L3495.9,1528.8 L3500.3,1532.4 L3504.6,1536.1 L3509,1539.7 L3505,1544.5 L3501,1549.2 L3497,1554 L3493,1558.8 L3489,1563.5 L3485,1568.3 L3481,1573 L3477,1577.8 L3473,1582.5 L3469.1,1587.3 L3465.1,1592 L3461.1,1596.8 L3456.7,1593.2 L3452.4,1589.5Z M3523.1,1585.9 L3527.1,1581.1 L3531.1,1576.4 L3535.1,1571.6 L3539.1,1566.8 L3543.1,1562.1 L3547.1,1557.3 L3551.1,1552.6 L3555.1,1547.8 L3559.1,1543.1 L3563.1,1538.3 L3567,1533.6 L3571,1528.8 L3575.4,1532.4 L3579.7,1536.1 L3584.1,1539.7 L3580.1,1544.5 L3576.1,1549.2 L3572.1,1554 L3568.1,1558.8 L3564.1,1563.5 L3560.1,1568.3 L3556.1,1573 L3552.1,1577.8 L3548.1,1582.5 L3544.2,1587.3 L3540.2,1592 L3536.2,1596.8 L3531.8,1593.2 L3527.5,1589.5Z M3598.2,1585.9 L3602.2,1581.1 L3606.2,1576.4 L3610.2,1571.6 L3614.2,1566.8 L3618.2,1562.1 L3622.2,1557.3 L3626.2,1552.6 L3630.2,1547.8 L3634.2,1543.1 L3638.2,1538.3 L3642.1,1533.6 L3646.1,1528.8 L3650.5,1532.4 L3654.8,1536.1 L3659.2,1539.7 L3655.2,1544.5 L3651.2,1549.2 L3647.2,1554 L3643.2,1558.8 L3639.2,1563.5 L3635.2,1568.3 L3631.2,1573 L3627.2,1577.8 L3623.2,1582.5 L3619.3,1587.3 L3615.3,1592 L3611.3,1596.8 L3606.9,1593.2 L3602.6,1589.5Z M3673.3,1585.9 L3677.3,1581.1 L3681.3,1576.4 L3685.3,1571.6 L3689.3,1566.8 L3693.3,1562.1 L3697.3,1557.3 L3701.3,1552.6 L3705.3,1547.8 L3709.3,1543.1 L3713.3,1538.3 L3717.2,1533.6 L3721.2,1528.8 L3725.6,1532.4 L3729.9,1536.1 L3734.3,1539.7 L3730.3,1544.5 L3726.3,1549.2 L3722.3,1554 L3718.3,1558.8 L3714.3,1563.5 L3710.3,1568.3 L3706.3,1573 L3702.3,1577.8 L3698.3,1582.5 L3694.4,1587.3 L3690.4,1592 L3686.4,1596.8 L3682,1593.2 L3677.7,1589.5Z M3748.4,1585.9 L3752.4,1581.1 L3756.4,1576.4 L3760.4,1571.6 L3764.4,1566.8 L3768.4,1562.1 L3772.4,1557.3 L3776.4,1552.6 L3780.4,1547.8 L3784.4,1543.1 L3788.4,1538.3 L3792.3,1533.6 L3796.3,1528.8 L3800.7,1532.4 L3805,1536.1 L3809.4,1539.7 L3805.4,1544.5 L3801.4,1549.2 L3797.4,1554 L3793.4,1558.8 L3789.4,1563.5 L3785.4,1568.3 L3781.4,1573 L3777.4,1577.8 L3773.4,1582.5 L3769.5,1587.3 L3765.5,1592 L3761.5,1596.8 L3757.1,1593.2 L3752.8,1589.5Z M3823.5,1585.9 L3827.5,1581.1 L3831.5,1576.4 L3835.5,1571.6 L3839.5,1566.8 L3843.5,1562.1 L3847.5,1557.3 L3851.5,1552.6 L3855.5,1547.8 L3859.5,1543.1 L3863.5,1538.3 L3867.4,1533.6 L3871.4,1528.8 L3875.8,1532.4 L3880.1,1536.1 L3884.5,1539.7 L3880.5,1544.5 L3876.5,1549.2 L3872.5,1554 L3868.5,1558.8 L3864.5,1563.5 L3860.5,1568.3 L3856.5,1573 L3852.5,1577.8 L3848.5,1582.5 L3844.6,1587.3 L3840.6,1592 L3836.6,1596.8 L3832.2,1593.2 L3827.9,1589.5Z M3898.6,1585.9 L3902.6,1581.1 L3906.6,1576.4 L3910.6,1571.6 L3914.6,1566.8 L3918.6,1562.1 L3922.6,1557.3 L3926.6,1552.6 L3930.6,1547.8 L3934.6,1543.1 L3938.6,1538.3 L3942.5,1533.6 L3946.5,1528.8 L3950.9,1532.4 L3955.2,1536.1 L3959.6,1539.7 L3955.6,1544.5 L3951.6,1549.2 L3947.6,1554 L3943.6,1558.8 L3939.6,1563.5 L3935.6,1568.3 L3931.6,1573 L3927.6,1577.8 L3923.6,1582.5 L3919.7,1587.3 L3915.7,1592 L3911.7,1596.8 L3907.3,1593.2 L3903,1589.5Z M3973.7,1585.9 L3977.7,1581.1 L3981.7,1576.4 L3985.7,1571.6 L3989.7,1566.8 L3993.7,1562.1 L3997.7,1557.3 L4001.7,1552.6 L4005.7,1547.8 L4009.7,1543.1 L4013.7,1538.3 L4017.6,1533.6 L4021.6,1528.8 L4026,1532.4 L4030.3,1536.1 L4034.7,1539.7 L4030.7,1544.5 L4026.7,1549.2 L4022.7,1554 L4018.7,1558.8 L4014.7,1563.5 L4010.7,1568.3 L4006.7,1573 L4002.7,1577.8 L3998.7,1582.5 L3994.8,1587.3 L3990.8,1592 L3986.8,1596.8 L3982.4,1593.2 L3978.1,1589.5Z M4048.8,1585.9 L4052.8,1581.1 L4056.8,1576.4 L4060.8,1571.6 L4064.8,1566.8 L4068.8,1562.1 L4072.8,1557.3 L4076.8,1552.6 L4080.8,1547.8 L4084.8,1543.1 L4088.8,1538.3 L4092.7,1533.6 L4096.7,1528.8 L4101.1,1532.4 L4105.4,1536.1 L4109.8,1539.7 L4105.8,1544.5 L4101.8,1549.2 L4097.8,1554 L4093.8,1558.8 L4089.8,1563.5 L4085.8,1568.3 L4081.8,1573 L4077.8,1577.8 L4073.8,1582.5 L4069.9,1587.3 L4065.9,1592 L4061.9,1596.8 L4057.5,1593.2 L4053.2,1589.5Z M4123.9,1585.9 L4128.6,1581.1 L4133.5,1575.9 L4137.6,1570.4 L4140.9,1564.7 L4143.2,1558.9 L4144.8,1553.1 L4145.5,1547.3 L4145.3,1541.7 L4144.4,1536.4 L4142.8,1531.4 L4140.5,1526.9 L4137.6,1522.9 L4141.4,1523.7 L4145.5,1523.8 L4149.6,1523.3 L4153.2,1527.2 L4156.2,1531.8 L4158.6,1536.9 L4160.3,1542.5 L4161.4,1548.5 L4161.6,1554.9 L4161,1561.5 L4159.5,1568.3 L4157.1,1575.1 L4153.8,1581.8 L4149.6,1588.4 L4144.4,1594.7 L4136.7,1592.5 L4129.5,1589.4Z M4197.2,1518.6 L4192.5,1513.4 L4187.8,1509.4 L4183,1505.4 L4178.2,1501.4 L4173.5,1497.4 L4168.7,1493.4 L4164,1489.4 L4159.2,1485.4 L4154.5,1481.4 L4149.7,1477.4 L4145,1473.5 L4140.2,1469.5 L4143.8,1465.1 L4147.5,1460.8 L4151.1,1456.4 L4155.9,1460.4 L4160.6,1464.4 L4165.4,1468.4 L4170.2,1472.4 L4174.9,1476.4 L4179.7,1480.4 L4184.4,1484.4 L4189.2,1488.4 L4193.9,1492.4 L4198.7,1496.3 L4203.4,1500.3 L4208.2,1504.3 L4204.6,1508.7 L4200.9,1513Z M4197.3,1442.2 L4192.5,1438.3 L4187.8,1434.3 L4183,1430.3 L4178.2,1426.3 L4173.5,1422.3 L4168.7,1418.3 L4164,1414.3 L4159.2,1410.3 L4154.5,1406.3 L4149.7,1402.3 L4145,1398.4 L4140.2,1394.4 L4143.8,1390 L4147.5,1385.7 L4151.1,1381.3 L4155.9,1385.3 L4160.6,1389.3 L4165.4,1393.3 L4170.2,1397.3 L4174.9,1401.3 L4179.7,1405.3 L4184.4,1409.3 L4189.2,1413.3 L4193.9,1417.3 L4198.7,1421.2 L4203.4,1425.2 L4208.2,1429.2 L4204.6,1433.6 L4200.9,1437.9Z M4197.3,1367.1 L4192.5,1363.2 L4187.8,1359.2 L4183,1355.2 L4178.2,1351.2 L4173.5,1347.2 L4168.7,1343.2 L4164,1339.2 L4159.2,1335.2 L4154.5,1331.2 L4149.7,1327.2 L4145,1323.3 L4140.2,1319.3 L4143.8,1314.9 L4147.5,1310.6 L4151.1,1306.2 L4155.9,1310.2 L4160.6,1314.2 L4165.4,1318.2 L4170.2,1322.2 L4174.9,1326.2 L4179.7,1330.2 L4184.4,1334.2 L4189.2,1338.2 L4193.9,1342.2 L4198.7,1346.1 L4203.4,1350.1 L4208.2,1354.1 L4204.6,1358.5 L4200.9,1362.8Z M4197.3,1292 L4192.5,1288.1 L4187.8,1284.1 L4183,1280.1 L4178.2,1276.1 L4173.5,1272.1 L4168.7,1268.1 L4164,1264.1 L4159.2,1260.1 L4154.5,1256.1 L4149.7,1252.1 L4145,1248.2 L4140.2,1244.2 L4143.8,1239.8 L4147.5,1235.5 L4151.1,1231.1 L4155.9,1235.1 L4160.6,1239.1 L4165.4,1243.1 L4170.2,1247.1 L4174.9,1251.1 L4179.7,1255.1 L4184.4,1259.1 L4189.2,1263.1 L4193.9,1267.1 L4198.7,1271 L4203.4,1275 L4208.2,1279 L4204.6,1283.4 L4200.9,1287.7Z M4197.3,1216.9 L4192.5,1213 L4187.8,1209 L4183,1205 L4178.2,1201 L4173.5,1197 L4168.7,1193 L4164,1189 L4159.2,1185 L4154.5,1181 L4149.7,1177 L4145,1173.1 L4140.2,1169.1 L4143.8,1164.7 L4147.5,1160.4 L4151.1,1156 L4155.9,1160 L4160.6,1164 L4165.4,1168 L4170.2,1172 L4174.9,1176 L4179.7,1180 L4184.4,1184 L4189.2,1188 L4193.9,1192 L4198.7,1195.9 L4203.4,1199.9 L4208.2,1203.9 L4204.6,1208.3 L4200.9,1212.6Z M4197.3,1141.8 L4192.5,1137.9 L4187.8,1133.9 L4183,1129.9 L4178.2,1125.9 L4173.5,1121.9 L4168.7,1117.9 L4164,1113.9 L4159.2,1109.9 L4154.5,1105.9 L4149.7,1101.9 L4145,1098 L4140.2,1094 L4143.8,1089.6 L4147.5,1085.3 L4151.1,1080.9 L4155.9,1084.9 L4160.6,1088.9 L4165.4,1092.9 L4170.2,1096.9 L4174.9,1100.9 L4179.7,1104.9 L4184.4,1108.9 L4189.2,1112.9 L4193.9,1116.9 L4198.7,1120.8 L4203.4,1124.8 L4208.2,1128.8 L4204.6,1133.2 L4200.9,1137.5Z M4197.3,1066.7 L4192.5,1062.8 L4187.8,1058.8 L4183,1054.8 L4178.2,1050.8 L4173.5,1046.8 L4168.7,1042.8 L4164,1038.8 L4159.2,1034.8 L4154.5,1030.8 L4149.7,1026.8 L4145,1022.9 L4140.2,1018.9 L4143.8,1014.5 L4147.5,1010.2 L4151.1,1005.8 L4155.9,1009.8 L4160.6,1013.8 L4165.4,1017.8 L4170.2,1021.8 L4174.9,1025.8 L4179.7,1029.8 L4184.4,1033.8 L4189.2,1037.8 L4193.9,1041.8 L4198.7,1045.7 L4203.4,1049.7 L4208.2,1053.7 L4204.6,1058.1 L4200.9,1062.4Z M4197.3,991.6 L4192.5,987.7 L4187.8,983.7 L4183,979.7 L4178.2,975.7 L4173.5,971.7 L4168.7,967.7 L4164,963.7 L4159.2,959.7 L4154.5,955.7 L4149.7,951.7 L4145,947.8 L4140.2,943.8 L4143.8,939.4 L4147.5,935.1 L4151.1,930.7 L4155.9,934.7 L4160.6,938.7 L4165.4,942.7 L4170.2,946.7 L4174.9,950.7 L4179.7,954.7 L4184.4,958.7 L4189.2,962.7 L4193.9,966.7 L4198.7,970.6 L4203.4,974.6 L4208.2,978.6 L4204.6,983 L4200.9,987.3Z M4197.3,916.5 L4192.5,912.6 L4187.8,908.6 L4183,904.6 L4178.2,900.6 L4173.5,896.6 L4168.7,892.6 L4164,888.6 L4159.2,884.7 L4154.3,882.4 L4149.4,880.9 L4144.3,880.2 L4139.4,880.3 L4142.2,877.6 L4144.7,874.4 L4146.6,870.7 L4151.8,870 L4157.3,870.2 L4162.9,871.1 L4168.4,872.9 L4174,875.5 L4179.3,879 L4184.4,883.3 L4189.2,887.6 L4193.9,891.6 L4198.7,895.5 L4203.4,899.5 L4208.2,903.5 L4204.6,907.9 L4200.9,912.2Z M4170,829 L4162.6,829.5 L4155.6,830.9 L4149.1,833 L4143.1,835.8 L4137.8,839.2 L4133.2,843 L4129.3,847.3 L4126.1,852 L4122.1,856.7 L4118.1,861.5 L4114.2,866.2 L4110.2,871 L4105.8,867.4 L4101.5,863.7 L4097.1,860.1 L4101.1,855.3 L4105.1,850.6 L4109.1,845.8 L4113.1,841 L4117.1,836.3 L4121.1,831.5 L4125.1,826.8 L4130,822.1 L4135.8,818 L4142.4,814.4 L4149.7,811.4 L4157.5,809.2 L4162.6,815.6 L4166.7,822.2Z M4082.9,813.9 L4079,818.7 L4075,823.4 L4071,828.2 L4067,833 L4063,837.7 L4059,842.5 L4055,847.2 L4051,852 L4047,856.7 L4043,861.5 L4039.1,866.2 L4035.1,871 L4030.7,867.4 L4026.4,863.7 L4022,860.1 L4026,855.3 L4030,850.6 L4034,845.8 L4038,841 L4042,836.3 L4046,831.5 L4050,826.8 L4054,822 L4058,817.3 L4061.9,812.5 L4065.9,807.8 L4069.9,803 L4074.3,806.6 L4078.6,810.3Z" fill="#ffff00"/></svg>
</body></html>
